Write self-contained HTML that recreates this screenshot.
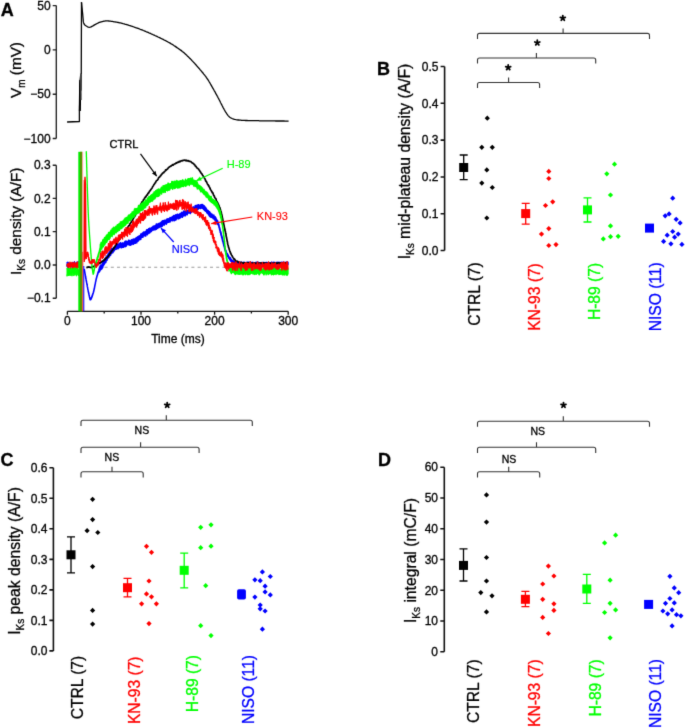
<!DOCTYPE html><html><head><meta charset="utf-8"><style>html,body{margin:0;padding:0;background:#fff;overflow:hidden}svg{display:block;will-change:transform}</style></head><body><svg width="685" height="728" viewBox="0 0 685 728" font-family='"Liberation Sans", sans-serif'>
<defs><filter id="bl" x="0" y="0" width="685" height="728" filterUnits="userSpaceOnUse" color-interpolation-filters="sRGB"><feConvolveMatrix order="3" kernelMatrix="0.018 0.135 0.018 0.135 1 0.135 0.018 0.135 0.018" divisor="1.613" edgeMode="duplicate" preserveAlpha="true"/></filter></defs><g filter="url(#bl)">
<rect width="685" height="728" fill="#fff"/>
<text x="0.8" y="16.4" font-size="18" text-anchor="start" fill="#000" stroke="#000" stroke-width="0.3" font-weight="bold" >A</text>
<path d="M56.3,5.6 L56.3,138.5 M52.7,5.6 L56.3,5.6 M52.7,49.8 L56.3,49.8 M52.7,94.2 L56.3,94.2 M52.7,138.5 L56.3,138.5" stroke="#222" stroke-width="1.35" fill="none"/>
<text x="50.6" y="9.8" font-size="12" text-anchor="end" fill="#000" stroke="#000" stroke-width="0.3" font-weight="normal" >50</text>
<text x="50.6" y="54" font-size="12" text-anchor="end" fill="#000" stroke="#000" stroke-width="0.3" font-weight="normal" >0</text>
<text x="50.6" y="98.4" font-size="12" text-anchor="end" fill="#000" stroke="#000" stroke-width="0.3" font-weight="normal" >−50</text>
<text x="50.6" y="142.7" font-size="12" text-anchor="end" fill="#000" stroke="#000" stroke-width="0.3" font-weight="normal" >−100</text>
<text transform="translate(20.8,98) rotate(-90)" font-size="15.3" stroke="#000" stroke-width="0.3">V<tspan font-size="10" dy="4">m</tspan><tspan dy="-4"> (mV)</tspan></text>
<path d="M67.1,122.0 79.4,121.5 79.4,110.0 79.8,83.0 80.8,74.0 81.2,90.0 81.5,2.2" stroke="#000" stroke-width="1.3" fill="none" stroke-linejoin="round"/>
<path d="M79.9,111 L80.3,80" stroke="#000" stroke-width="2"/>
<path d="M80.9,74 L81.2,100" stroke="#666" stroke-width="1.2"/>
<path d="M81.5,2.2 81.5,2.7 81.6,3.3 81.7,4.0 81.7,4.7 81.8,5.6 81.9,6.5 82.0,7.5 82.1,8.4 82.2,9.4 82.3,10.5 82.4,11.5 82.5,12.4 82.6,13.4 82.7,14.3 82.8,15.1 82.8,15.8 82.9,16.5 83.0,17.7 83.1,18.8 83.2,19.7 83.2,20.5 83.3,21.2 83.4,21.8 83.5,22.4 83.7,23.0 84.1,24.0 84.6,24.7 85.2,25.3 85.9,25.8 86.7,26.3 87.5,26.8 88.4,27.1 89.2,27.3 90.2,27.2 91.1,26.9 92.0,26.4 92.7,26.0 93.4,25.6 94.1,25.1 95.0,24.6 95.7,24.2 96.4,23.9 97.1,23.5 97.9,23.1 98.6,22.7 99.4,22.4 100.3,22.1 101.2,21.8 102.2,21.6 103.1,21.4 104.0,21.2 104.8,21.1 105.5,20.9 106.2,20.9 107.0,20.8 108.1,20.9 108.8,21.0 109.6,21.1 110.4,21.2 111.3,21.3 112.3,21.4 113.2,21.6 114.2,21.8 115.1,21.9 116.0,22.1 116.8,22.2 117.5,22.4 118.2,22.5 119.0,22.6 119.7,22.8 120.4,22.9 121.3,23.1 122.1,23.3 123.1,23.6 124.2,23.9 124.8,24.1 125.5,24.3 126.1,24.5 126.9,24.7 127.6,24.9 128.3,25.1 129.1,25.4 129.9,25.6 130.7,25.9 131.5,26.2 132.3,26.4 133.1,26.7 134.0,27.0 134.8,27.3 135.6,27.6 136.4,27.8 137.2,28.1 138.0,28.4 138.8,28.7 139.6,29.0 140.3,29.3 141.1,29.6 141.9,29.9 142.7,30.2 143.4,30.5 144.2,30.8 145.0,31.1 145.7,31.5 146.5,31.8 147.3,32.1 148.1,32.4 148.8,32.8 149.6,33.1 150.4,33.4 151.1,33.8 151.9,34.1 152.6,34.5 153.4,34.8 154.2,35.1 154.9,35.5 155.7,35.9 156.5,36.2 157.3,36.6 158.1,37.0 158.9,37.3 159.6,37.7 160.4,38.1 161.2,38.5 162.0,38.9 162.7,39.2 163.5,39.6 164.2,40.0 164.9,40.3 165.6,40.7 166.2,41.0 166.9,41.4 167.5,41.7 168.4,42.2 169.3,42.7 170.1,43.1 170.8,43.6 171.5,44.0 172.2,44.4 172.9,44.8 173.6,45.3 174.2,45.7 174.9,46.1 175.6,46.6 176.3,47.1 177.0,47.6 177.6,48.0 178.3,48.5 179.0,49.0 179.6,49.5 180.3,49.9 181.0,50.4 181.7,50.9 182.3,51.5 183.0,52.0 183.7,52.6 184.3,53.1 185.0,53.7 185.6,54.2 186.2,54.8 186.8,55.3 187.3,55.9 187.9,56.4 188.5,57.0 189.1,57.6 189.7,58.2 190.3,58.8 190.9,59.4 191.5,60.0 192.0,60.6 192.6,61.2 193.2,61.9 193.8,62.5 194.4,63.1 194.9,63.7 195.5,64.3 196.1,65.0 196.6,65.6 197.2,66.3 197.8,67.0 198.4,67.6 198.9,68.3 199.5,68.9 200.0,69.6 200.6,70.2 201.1,70.8 201.6,71.4 202.0,72.0 202.5,72.5 203.2,73.3 203.8,74.1 204.4,74.8 204.9,75.4 205.4,76.1 205.9,76.7 206.3,77.4 206.8,78.1 207.3,78.8 207.8,79.5 208.2,80.1 208.6,80.8 209.0,81.5 209.4,82.1 209.8,82.8 210.2,83.5 210.6,84.2 211.0,84.9 211.4,85.6 211.8,86.4 212.3,87.1 212.7,87.9 213.1,88.6 213.5,89.3 213.9,90.0 214.3,90.8 214.8,91.5 215.2,92.3 215.6,93.1 216.0,93.9 216.5,94.7 216.9,95.4 217.3,96.2 217.7,96.9 218.1,97.7 218.5,98.4 218.9,99.2 219.3,99.9 219.7,100.7 220.1,101.5 220.4,102.2 220.8,103.0 221.2,103.7 221.5,104.4 221.9,105.1 222.2,105.8 222.6,106.5 222.9,107.1 223.2,107.7 223.7,108.6 224.2,109.5 224.7,110.3 225.1,111.1 225.5,111.8 225.9,112.4 226.3,113.0 226.7,113.6 227.4,114.6 227.9,115.3 228.4,115.9 229.0,116.5 229.8,117.2 230.5,117.7 231.4,118.2 232.1,118.5 232.9,118.8 233.7,119.1 234.5,119.3 235.2,119.5 235.9,119.7 236.9,119.8 238.4,120.0 238.9,120.0 239.4,120.1 239.9,120.1 240.4,120.2 240.9,120.2 241.4,120.3 242.0,120.3 242.7,120.4 243.5,120.4 244.5,120.4 245.6,120.5 246.9,120.5 248.3,120.6 250.0,120.6 250.5,120.6 251.1,120.6 251.7,120.6 252.4,120.6 253.1,120.7 253.8,120.7 254.5,120.7 255.3,120.7 256.1,120.7 256.9,120.7 257.8,120.7 258.7,120.7 259.5,120.8 260.4,120.8 261.4,120.8 262.3,120.8 263.2,120.8 264.2,120.8 265.2,120.8 266.1,120.8 267.1,120.9 268.1,120.9 269.0,120.9 270.0,120.9 271.0,120.9 272.0,120.9 272.9,120.9 273.9,120.9 274.8,120.9 275.8,121.0 276.7,121.0 277.6,121.0 278.5,121.0 279.4,121.0 280.2,121.0 281.0,121.0 281.8,121.0 282.6,121.0 283.4,121.0 284.1,121.0 284.8,121.1 285.4,121.1 286.1,121.1 286.6,121.1 287.2,121.1 287.7,121.1 288.2,121.1 288.6,121.1" stroke="#000" stroke-width="1.3" fill="none" stroke-linejoin="round"/>
<path d="M56.3,165.2 L56.3,298.2 M52.7,165.2 L56.3,165.2 M52.7,198.3 L56.3,198.3 M52.7,231.6 L56.3,231.6 M52.7,265 L56.3,265 M52.7,298.2 L56.3,298.2" stroke="#222" stroke-width="1.35" fill="none"/>
<text x="50.6" y="169.4" font-size="12" text-anchor="end" fill="#000" stroke="#000" stroke-width="0.3" font-weight="normal" >0.3</text>
<text x="50.6" y="202.5" font-size="12" text-anchor="end" fill="#000" stroke="#000" stroke-width="0.3" font-weight="normal" >0.2</text>
<text x="50.6" y="235.8" font-size="12" text-anchor="end" fill="#000" stroke="#000" stroke-width="0.3" font-weight="normal" >0.1</text>
<text x="50.6" y="269.2" font-size="12" text-anchor="end" fill="#000" stroke="#000" stroke-width="0.3" font-weight="normal" >0.0</text>
<text x="50.6" y="302.4" font-size="12" text-anchor="end" fill="#000" stroke="#000" stroke-width="0.3" font-weight="normal" >−0.1</text>
<text transform="translate(21,275) rotate(-90)" font-size="15.4" stroke="#000" stroke-width="0.3">I<tspan font-size="10" dy="4">Ks</tspan><tspan dy="-4"> density (A/F)</tspan></text>
<path d="M67.4,311.3 L288.2,311.3 M67.4,311.3 L67.4,314.8 M104.2,311.3 L104.2,313.5 M141.0,311.3 L141.0,314.8 M177.8,311.3 L177.8,313.5 M214.6,311.3 L214.6,314.8 M251.4,311.3 L251.4,313.5 M288.2,311.3 L288.2,314.8" stroke="#111" stroke-width="1.3" fill="none"/>
<text x="67.4" y="325.2" font-size="12" text-anchor="middle" fill="#000" stroke="#000" stroke-width="0.3" font-weight="normal" >0</text>
<text x="141" y="325.2" font-size="12" text-anchor="middle" fill="#000" stroke="#000" stroke-width="0.3" font-weight="normal" >100</text>
<text x="214.6" y="325.2" font-size="12" text-anchor="middle" fill="#000" stroke="#000" stroke-width="0.3" font-weight="normal" >200</text>
<text x="288.2" y="325.2" font-size="12" text-anchor="middle" fill="#000" stroke="#000" stroke-width="0.3" font-weight="normal" >300</text>
<text x="177.9" y="343.3" font-size="12" text-anchor="middle" fill="#000" stroke="#000" stroke-width="0.3" font-weight="normal" >Time (ms)</text>
<line x1="86" y1="267.3" x2="288" y2="267.3" stroke="#9a9a9a" stroke-width="1.1" stroke-dasharray="3,3.2"/>
<path d="M67.0,264.8 67.2,265.2 67.5,265.0 67.8,264.6 68.1,264.5 68.4,264.6 68.8,264.9 69.2,264.6 69.7,265.1 70.1,265.1 70.6,265.6 71.0,265.4 71.5,264.6 72.0,264.8 72.5,264.7 73.0,265.1 73.5,265.0 74.0,264.6 74.5,265.2 75.0,264.8 75.4,265.0 75.9,265.3 76.3,264.7 76.8,265.0 77.2,265.2 77.6,265.5 77.9,264.9 78.2,264.7 78.5,264.5 78.8,265.3 79.0,265.4" stroke="#000000" stroke-width="1.2" fill="none"/>
<path d="M67.0,262.3 67.2,262.6 67.5,261.8 67.8,262.8 68.1,263.5 68.4,262.4 68.8,261.9 69.2,263.0 69.7,263.5 70.1,263.4 70.6,263.5 71.0,263.4 71.5,263.0 72.0,263.5 72.5,262.7 73.0,261.9 73.5,263.2 74.0,263.1 74.5,261.4 75.0,263.4 75.4,263.3 75.9,262.6 76.3,263.5 76.8,263.1 77.2,261.5 77.6,262.7 77.9,262.3 78.2,261.6 78.5,261.7 78.8,263.0 79.0,263.4 79.0,266.6 78.8,266.0 78.5,267.0 78.2,267.0 77.9,265.5 77.6,266.5 77.2,266.7 76.8,266.4 76.3,266.0 75.9,265.8 75.4,266.2 75.0,265.7 74.5,265.6 74.0,267.3 73.5,266.0 73.0,267.2 72.5,267.3 72.0,266.1 71.5,267.3 71.0,265.7 70.6,266.9 70.1,265.6 69.7,266.1 69.2,266.7 68.8,265.8 68.4,267.7 68.1,266.7 67.8,266.6 67.5,267.5 67.2,266.1 67.0,266.5z" fill="#0000ff" stroke="#0000ff" stroke-width="1.0" stroke-linejoin="round" fill-opacity="1" stroke-opacity="1"/>
<path d="M67.0,264.0 67.2,263.8 67.5,263.5 67.8,264.0 68.1,263.9 68.4,264.0 68.8,262.7 69.2,263.7 69.7,263.4 70.1,261.8 70.6,263.2 71.0,263.9 71.5,263.5 72.0,261.9 72.5,264.0 73.0,263.0 73.5,262.9 74.0,263.0 74.5,261.8 75.0,263.7 75.4,263.8 75.9,263.0 76.3,263.5 76.8,262.0 77.2,261.8 77.6,262.0 77.9,263.7 78.2,263.5 78.5,264.0 78.8,263.7 79.0,261.4 79.0,267.2 78.8,268.0 78.5,266.8 78.2,266.4 77.9,267.4 77.6,268.1 77.2,268.4 76.8,269.1 76.3,266.7 75.9,268.3 75.4,268.3 75.0,267.0 74.5,268.0 74.0,269.1 73.5,266.4 73.0,266.5 72.5,269.0 72.0,266.6 71.5,266.7 71.0,266.5 70.6,267.3 70.1,269.2 69.7,266.5 69.2,266.9 68.8,266.5 68.4,268.7 68.1,267.0 67.8,266.5 67.5,266.4 67.2,266.6 67.0,266.4z" fill="#ff0000" stroke="#ff0000" stroke-width="1.0" stroke-linejoin="round" fill-opacity="1" stroke-opacity="1"/>
<path d="M67.0,267.9 67.2,267.8 67.5,270.2 67.8,270.2 68.1,269.1 68.4,268.3 68.8,269.0 69.2,270.3 69.7,268.0 70.1,268.6 70.6,270.2 71.0,269.9 71.5,267.7 72.0,269.8 72.5,268.7 73.0,270.3 73.5,268.0 74.0,270.3 74.5,267.7 75.0,269.9 75.4,270.3 75.9,267.7 76.3,269.4 76.8,269.7 77.2,268.3 77.6,270.1 77.9,270.1 78.2,270.1 78.5,270.3 78.8,269.9 79.0,269.2 79.0,276.0 78.8,274.4 78.5,276.0 78.2,274.3 77.9,274.8 77.6,274.0 77.2,273.8 76.8,275.8 76.3,276.1 75.9,275.0 75.4,273.6 75.0,274.7 74.5,275.0 74.0,275.7 73.5,275.6 73.0,273.7 72.5,273.8 72.0,276.2 71.5,274.2 71.0,275.6 70.6,275.5 70.1,274.5 69.7,275.5 69.2,275.0 68.8,275.6 68.4,274.5 68.1,276.0 67.8,273.8 67.5,273.9 67.2,274.2 67.0,276.3z" fill="#00ff00" stroke="#00ff00" stroke-width="1.0" stroke-linejoin="round" fill-opacity="1" stroke-opacity="1"/>
<rect x="83" y="180" width="2.5" height="80" fill="#ffb3b3"/>
<rect x="78.3" y="151.8" width="4" height="159.5" fill="#00ee00"/>
<rect x="80" y="151.8" width="1.9" height="159.5" fill="#5a9000"/>
<rect x="82.2" y="151.8" width="0.9" height="100" fill="#ff9a9a"/>
<rect x="82.2" y="251.8" width="1.1" height="59.5" fill="#ff3030"/>
<rect x="83.3" y="266" width="1.0" height="45.3" fill="#0000ff"/>
<path d="M84.2,262 L84.6,185 L85,176.9 L85.5,185 L86,258" stroke="#ff0000" stroke-width="1.3" fill="#ff0000"/>
<path d="M84.4,269.5 84.4,269.7 84.5,269.9 84.5,270.2 84.6,270.6 84.6,270.8 84.7,271.0 84.7,271.5 84.8,271.8 84.9,272.3 84.9,272.6 85.0,272.9 85.1,273.4 85.2,273.7 85.2,274.2 85.3,274.7 85.4,275.2 85.5,275.6 85.6,276.0 85.6,276.4 85.7,277.0 85.8,277.4 85.9,278.1 86.0,278.6 86.1,279.0 86.1,279.3 86.2,279.9 86.3,280.3 86.4,280.6 86.5,281.2 86.5,281.5 86.6,281.7 86.7,282.4 86.8,282.7 86.8,283.2 86.9,283.4 87.0,283.9 87.1,284.5 87.2,284.8 87.2,285.3 87.3,285.6 87.4,286.2 87.5,286.7 87.6,287.1 87.6,287.5 87.7,287.7 87.8,288.4 87.9,288.7 88.0,289.2 88.1,289.5 88.1,290.1 88.2,290.3 88.3,290.9 88.4,291.3 88.4,291.6 88.5,291.9 88.6,292.3 88.7,292.6 88.7,293.1 88.8,293.4 88.9,293.6 88.9,293.8 89.0,294.2 89.2,294.9 89.3,295.6 89.4,296.1 89.6,296.9 89.7,297.2 89.8,297.7 89.9,298.2 90.0,298.6 90.1,298.7 90.3,298.9 90.4,298.9 90.6,298.9 90.7,298.8 90.8,298.7 91.0,298.5 91.1,298.3 91.3,297.7 91.4,297.6 91.6,297.3 91.7,296.9 91.9,296.5 92.0,295.8 92.2,295.6 92.4,295.1 92.5,294.7 92.7,294.1 92.8,293.7 93.0,293.2 93.2,292.7 93.3,292.2 93.5,291.6 93.6,291.0 93.7,290.6 93.8,290.3 93.9,290.1 94.0,289.5 94.0,289.2 94.1,289.0 94.2,288.3 94.3,288.0 94.4,287.8 94.5,287.3 94.6,286.7 94.6,286.4 94.7,285.9 94.8,285.6 94.9,285.2 95.0,284.8 95.0,284.3 95.1,283.8 95.2,283.4 95.3,282.9 95.4,282.6 95.5,282.1 95.5,281.7 95.6,281.4 95.7,280.9 95.8,280.5 95.9,280.2 96.0,279.8 96.0,279.3 96.1,279.0 96.2,278.8 96.3,278.2 96.4,277.8 96.6,277.4 96.7,276.8 96.8,276.4 96.9,276.0 97.0,275.6 97.2,275.0 97.3,274.5 97.4,274.4 97.5,273.8 97.6,273.6 97.8,273.3 97.9,272.9 98.0,272.5 98.1,271.9 98.3,271.6 98.4,271.3 98.5,271.2 98.7,270.8 98.8,270.5 99.0,268.9 99.2,268.9 99.4,268.3 99.6,268.2 99.9,266.6 100.1,266.0 100.3,265.8 100.5,266.6 100.8,264.9 101.0,266.0 101.3,265.8 101.5,265.7 101.7,265.1 102.0,264.8 102.2,264.0 102.4,264.0 102.6,262.6 102.8,262.9 103.0,261.8 103.2,262.0 103.4,261.6 103.6,261.3 103.8,261.8 104.0,260.1 104.2,260.8 104.4,260.8 104.6,258.9 104.8,259.4 105.0,259.2 105.3,259.5 105.5,259.1 105.8,258.2 106.0,256.9 106.2,257.6 106.4,257.7 106.6,257.2 106.8,257.0 107.0,256.1 107.3,255.3 107.5,255.7 107.7,255.4 108.0,255.4 108.2,253.4 108.4,254.1 108.7,252.9 108.9,253.8 109.1,253.2 109.4,251.6 109.6,251.5 109.9,252.6 110.1,250.8 110.3,251.2 110.6,251.2 110.8,250.0 111.0,249.3 111.3,250.7 111.5,249.8 111.8,248.5 112.1,248.9 112.4,248.9 112.7,249.1 113.0,248.6 113.4,247.6 113.7,248.1 114.0,247.1 114.3,247.6 114.6,246.8 114.9,246.7 115.2,246.1 115.5,246.4 115.8,244.8 116.1,244.8 116.4,245.9 116.7,244.1 117.0,245.4 117.4,244.8 117.8,244.8 118.2,244.1 118.6,244.7 119.0,244.4 119.4,243.7 119.8,243.3 120.1,243.8 120.5,242.6 120.9,243.0 121.3,244.0 121.6,243.8 122.0,243.4 122.4,243.6 122.8,242.7 123.3,243.4 123.7,243.2 124.1,243.1 124.5,243.1 124.9,241.4 125.3,241.7 125.7,241.1 126.1,242.4 126.5,241.3 126.9,241.4 127.3,241.9 127.7,242.1 128.1,241.9 128.5,240.3 128.9,240.2 129.3,241.5 129.7,240.5 130.1,241.7 130.6,241.2 131.0,241.3 131.4,239.8 131.8,240.8 132.1,239.9 132.5,241.0 132.9,239.3 133.3,239.6 133.7,240.3 134.1,238.8 134.5,240.1 135.0,239.8 135.4,239.9 135.8,238.1 136.2,237.8 136.5,239.1 136.8,237.4 137.1,238.4 137.4,238.1 137.7,236.7 138.0,236.8 138.3,236.4 138.6,236.7 138.9,236.9 139.2,235.7 139.5,236.4 139.8,236.1 140.2,236.0 140.5,235.4 140.8,233.9 141.2,234.9 141.5,234.8 141.9,233.5 142.2,234.2 142.5,233.3 142.9,232.8 143.2,232.7 143.5,232.1 143.9,232.5 144.2,231.9 144.6,232.6 145.0,232.5 145.3,231.6 145.7,231.7 146.1,231.3 146.4,230.4 146.8,229.7 147.2,230.7 147.5,229.7 147.9,230.8 148.2,230.5 148.6,228.7 148.9,228.6 149.3,228.5 149.6,229.5 150.0,227.9 150.3,228.5 150.7,228.9 151.0,228.7 151.4,228.4 151.7,227.4 152.1,228.1 152.4,226.9 152.7,227.4 153.1,226.2 153.4,227.2 153.8,226.6 154.1,225.9 154.4,226.4 154.8,225.9 155.2,225.8 155.5,225.6 155.9,225.3 156.3,224.0 156.6,224.9 157.0,224.0 157.3,224.9 157.7,224.3 158.0,224.1 158.4,223.8 158.8,224.2 159.2,223.1 159.5,223.8 159.9,223.3 160.3,223.4 160.7,222.6 161.1,223.1 161.5,221.7 161.8,222.6 162.2,220.9 162.6,221.9 162.9,220.7 163.3,220.6 163.6,220.6 164.0,220.5 164.3,221.2 164.6,220.1 165.0,221.1 165.4,220.4 165.8,220.8 166.2,219.6 166.5,220.4 166.9,219.1 167.2,218.7 167.5,219.1 167.8,218.9 168.2,219.1 168.5,218.9 168.8,218.7 169.2,219.0 169.6,218.3 170.0,217.5 170.4,217.9 170.7,217.8 171.1,218.1 171.4,218.0 171.8,217.2 172.2,216.8 172.5,216.4 172.9,216.8 173.3,216.6 173.7,215.4 174.1,215.5 174.5,215.7 174.9,216.5 175.3,215.9 175.7,214.7 176.1,214.9 176.5,215.9 176.9,214.7 177.3,214.1 177.7,214.2 178.1,214.7 178.5,215.0 178.9,214.4 179.3,214.8 179.6,214.6 180.0,213.5 180.4,214.2 180.8,214.1 181.2,213.1 181.6,212.3 182.0,212.9 182.4,213.4 182.8,212.4 183.2,211.8 183.5,211.1 183.9,212.4 184.3,212.1 184.7,211.3 185.0,210.9 185.4,211.2 185.7,211.1 186.1,211.5 186.4,211.6 186.7,210.6 187.2,210.6 187.6,211.0 188.1,209.9 188.5,210.6 188.9,210.4 189.2,210.1 189.6,209.3 190.0,209.1 190.3,209.7 190.7,209.4 191.0,209.4 191.3,207.8 191.7,208.7 192.0,208.9 192.4,208.0 192.8,207.6 193.1,206.7 193.5,207.9 193.8,207.9 194.2,207.2 194.5,207.5 194.9,207.3 195.2,205.5 195.6,206.8 196.0,206.1 196.4,205.3 196.8,206.2 197.2,206.3 197.6,205.0 198.0,206.0 198.5,204.8 198.9,204.7 199.3,205.5 199.7,205.4 200.2,205.4 200.6,204.8 200.9,204.7 201.3,205.0 201.7,204.6 202.1,205.5 202.5,204.4 202.8,204.7 203.2,206.0 203.5,205.4 203.8,205.7 204.2,205.7 204.6,207.1 205.0,206.9 205.2,207.0 205.5,207.6 205.7,207.5 206.0,208.3 206.2,208.4 206.5,209.2 206.8,209.6 207.1,209.9 207.3,210.3 207.6,210.4 207.9,211.1 208.2,210.6 208.5,210.9 208.7,212.1 209.0,212.2 209.3,211.7 209.5,213.1 209.8,212.0 210.0,213.6 210.4,213.9 210.7,213.1 211.1,213.8 211.4,214.0 211.7,214.9 212.1,214.2 212.4,215.1 212.7,215.5 213.0,215.5 213.4,215.7 213.7,214.9 214.0,215.4 214.2,216.9 214.5,216.7 214.8,217.1 215.0,217.2 215.3,216.8 215.5,217.2 215.8,218.6 216.0,218.0 216.3,219.3 216.5,219.2 216.8,219.9 217.0,220.1 217.2,220.6 217.5,221.0 217.7,220.8 217.9,222.1 218.0,222.7 218.2,222.5 218.3,222.9 218.4,223.5 218.5,223.2 218.6,223.6 218.8,224.7 218.9,224.3 219.0,225.3 219.1,225.8 219.2,225.9 219.3,226.0 219.4,226.9 219.5,227.4 219.6,227.4 219.7,228.2 219.8,228.1 219.9,229.1 220.0,228.8 220.1,229.9 220.2,229.9 220.4,230.9 220.5,231.2 220.6,231.4 220.7,232.0 220.8,231.6 220.9,232.9 221.0,233.2 221.1,232.7 221.2,233.4 221.3,234.4 221.4,234.8 221.5,235.1 221.6,235.5 221.8,235.6 221.9,236.1 222.0,236.9 222.1,237.1 222.2,236.9 222.3,237.8 222.4,238.4 222.5,238.5 222.7,238.8 222.8,239.1 222.9,239.8 223.0,240.6 223.1,241.1 223.2,240.9 223.3,241.5 223.4,242.1 223.5,242.2 223.6,242.5 223.7,243.3 223.8,243.1 223.9,243.8 224.0,244.6 224.2,245.0 224.3,244.6 224.4,245.9 224.5,246.0 224.6,246.5 224.7,246.5 224.8,247.4 224.9,247.9 225.0,248.2 225.2,248.8 225.3,249.0 225.4,249.4 225.5,249.9 225.6,250.0 225.7,250.4 225.8,250.9 226.0,250.4 226.1,251.6 226.2,251.8 226.4,252.4 226.6,252.1 226.8,252.9 227.0,253.5 227.2,253.8 227.4,253.6 227.6,254.4 227.8,254.7 228.0,254.7 228.2,255.0 228.5,255.9 228.7,256.2 228.9,256.8 229.2,257.0 229.4,257.3 229.6,257.5 229.8,257.6 230.1,257.5 230.3,258.6 230.5,258.0 230.8,259.2 231.1,259.1 231.4,259.9 231.7,259.7 232.0,260.5 232.3,260.7 232.6,260.8 232.9,260.4 233.2,261.4 233.6,261.2 233.9,261.3 234.2,261.4 234.6,262.1 234.9,262.0 234.9,262.2 234.9,262.2 234.8,262.6 234.6,262.4 234.6,262.5 234.6,262.5 234.8,262.5 235.2,262.9 235.8,262.6 236.8,262.4 238.2,262.8 240.0,262.1 240.2,262.5 240.5,263.0 240.7,262.5 241.0,262.8 241.2,262.7 241.5,262.2 241.8,262.4 242.1,262.8 242.4,262.8 242.7,262.7 243.0,262.9 243.3,262.8 243.6,262.3 243.9,262.3 244.3,262.7 244.6,262.7 245.0,262.5 245.4,262.9 245.7,262.9 246.1,262.6 246.5,263.0 246.9,262.2 247.2,263.0 247.6,263.1 248.0,262.2 248.5,262.5 248.9,262.2 249.3,262.6 249.7,262.5 250.1,262.5 250.6,262.5 251.0,262.4 251.4,263.0 251.9,262.4 252.3,262.5 252.8,262.3 253.2,262.7 253.7,262.9 254.2,262.9 254.6,262.6 255.1,263.0 255.6,263.1 256.0,262.3 256.5,262.2 257.0,263.1 257.5,262.6 258.0,262.1 258.4,262.8 258.9,262.6 259.4,263.0 259.9,263.1 260.4,263.0 260.9,263.0 261.4,263.0 261.9,262.5 262.4,262.4 262.9,263.0 263.3,262.5 263.8,262.4 264.3,262.6 264.8,262.8 265.3,262.9 265.8,262.5 266.3,263.0 266.8,262.3 267.3,262.9 267.8,263.0 268.3,262.7 268.8,262.8 269.2,262.8 269.7,263.0 270.2,262.8 270.7,262.6 271.2,262.8 271.6,262.1 272.1,262.6 272.6,263.0 273.1,262.5 273.5,262.9 274.0,262.1 274.4,262.6 274.9,262.8 275.3,262.8 275.8,262.6 276.2,262.3 276.7,263.0 277.1,262.8 277.5,262.3 278.0,263.0 278.4,262.3 278.8,262.6 279.2,262.2 279.6,262.5 280.0,262.8 280.4,262.6 280.8,262.9 281.2,262.1 281.5,262.6 281.9,262.7 282.3,262.9 282.6,262.3 283.0,263.0 283.3,262.3 283.7,262.6 284.0,262.2 284.3,262.7 284.6,262.9 285.0,262.9 285.3,262.8 285.5,262.8 285.8,263.0 286.1,262.0 286.4,263.0 286.6,262.3 286.9,262.6 287.1,262.6 287.4,263.0 287.6,262.2 287.8,262.6 288.0,262.3 288.0,264.5 287.8,264.3 287.6,264.5 287.4,265.2 287.1,264.2 286.9,264.4 286.6,264.3 286.4,264.7 286.1,264.4 285.8,264.2 285.5,264.6 285.3,264.6 285.0,264.8 284.6,264.3 284.3,264.6 284.0,264.6 283.7,265.0 283.3,264.3 283.0,264.9 282.6,264.5 282.3,264.8 281.9,264.3 281.5,264.7 281.2,264.3 280.8,264.8 280.4,264.9 280.0,264.2 279.6,265.1 279.2,264.9 278.8,264.3 278.4,265.0 278.0,265.0 277.5,265.0 277.1,264.6 276.7,264.3 276.2,264.4 275.8,265.1 275.3,264.8 274.9,265.1 274.4,264.4 274.0,265.0 273.5,264.7 273.1,265.0 272.6,265.2 272.1,264.4 271.6,264.9 271.2,264.9 270.7,264.5 270.2,264.7 269.7,264.9 269.2,264.8 268.8,264.7 268.3,264.3 267.8,265.0 267.3,264.8 266.8,264.3 266.3,264.7 265.8,264.2 265.3,265.2 264.8,265.1 264.3,264.8 263.8,264.3 263.3,265.0 262.9,264.9 262.4,264.3 261.9,264.4 261.4,264.3 260.9,265.1 260.4,265.2 259.9,264.8 259.4,264.3 258.9,264.3 258.4,264.3 258.0,264.6 257.5,265.2 257.0,264.5 256.5,264.5 256.0,264.7 255.6,264.3 255.1,264.7 254.6,265.2 254.2,264.5 253.7,264.5 253.2,264.4 252.8,264.9 252.3,264.5 251.9,265.1 251.4,264.3 251.0,264.3 250.6,264.5 250.1,264.3 249.7,264.7 249.3,264.7 248.9,264.7 248.5,264.9 248.0,264.7 247.6,264.3 247.2,264.4 246.9,264.6 246.5,264.8 246.1,264.9 245.7,264.7 245.4,264.4 245.0,264.9 244.6,265.2 244.3,264.4 243.9,264.5 243.6,264.4 243.3,264.6 243.0,264.5 242.7,264.9 242.4,264.5 242.1,265.0 241.8,264.7 241.5,264.2 241.2,264.5 241.0,265.2 240.7,265.1 240.5,264.7 240.2,264.7 240.0,264.2 238.2,264.4 236.8,264.9 235.8,264.5 235.2,264.9 234.8,264.9 234.6,264.4 234.6,264.0 234.6,263.9 234.8,263.9 234.9,263.9 234.9,264.5 234.9,264.2 234.6,264.0 234.2,264.0 233.9,263.9 233.6,263.5 233.2,263.5 232.9,263.1 232.6,262.3 232.3,262.6 232.0,261.8 231.7,261.5 231.4,262.1 231.1,260.8 230.8,261.2 230.5,260.8 230.3,260.6 230.1,260.3 229.8,259.5 229.6,259.5 229.4,259.0 229.2,258.5 228.9,258.6 228.7,257.7 228.5,257.4 228.2,257.1 228.0,256.8 227.8,256.3 227.6,256.0 227.4,256.2 227.2,255.6 227.0,255.7 226.8,254.8 226.6,254.5 226.4,254.3 226.2,253.3 226.1,253.6 226.0,252.9 225.8,252.8 225.7,252.0 225.6,252.0 225.5,251.4 225.4,251.0 225.3,250.4 225.2,251.0 225.0,250.3 224.9,249.8 224.8,249.8 224.7,248.8 224.6,248.5 224.5,248.2 224.4,247.6 224.3,247.1 224.2,246.9 224.0,246.2 223.9,246.3 223.8,245.2 223.7,245.1 223.6,245.1 223.5,244.1 223.4,243.8 223.3,243.2 223.2,243.3 223.1,242.6 223.0,242.4 222.9,241.8 222.8,241.7 222.7,241.3 222.5,241.1 222.4,239.9 222.3,240.1 222.2,239.3 222.1,239.2 222.0,238.6 221.9,238.0 221.8,237.6 221.6,237.6 221.5,236.5 221.4,236.1 221.3,236.1 221.2,235.5 221.1,235.6 221.0,234.7 220.9,235.0 220.8,234.3 220.7,233.4 220.6,233.1 220.5,232.7 220.4,232.2 220.2,232.4 220.1,231.4 220.0,230.9 219.9,230.6 219.8,230.3 219.7,229.8 219.6,229.7 219.5,229.4 219.4,228.4 219.3,228.4 219.2,228.1 219.1,227.4 219.0,227.5 218.9,226.7 218.8,226.1 218.6,225.6 218.5,225.3 218.4,225.1 218.3,224.8 218.2,224.9 218.0,224.6 217.9,224.6 217.7,223.9 217.5,223.1 217.2,224.0 217.0,223.3 216.8,222.3 216.5,222.5 216.3,221.6 216.0,222.2 215.8,220.5 215.5,220.2 215.3,219.8 215.0,219.6 214.8,220.1 214.5,219.9 214.2,219.0 214.0,219.1 213.7,218.6 213.4,218.0 213.0,218.4 212.7,217.5 212.4,217.5 212.1,217.1 211.7,216.8 211.4,216.7 211.1,217.4 210.7,217.1 210.4,215.8 210.0,215.5 209.8,216.5 209.5,216.1 209.3,215.8 209.0,215.4 208.7,214.6 208.5,214.5 208.2,214.0 207.9,212.9 207.6,212.6 207.3,213.5 207.1,211.8 206.8,212.7 206.5,211.8 206.2,211.0 206.0,211.3 205.7,211.3 205.5,211.0 205.2,211.1 205.0,210.2 204.6,210.3 204.2,208.9 203.8,208.7 203.5,209.5 203.2,208.1 202.8,207.8 202.5,207.8 202.1,208.3 201.7,208.0 201.3,207.8 200.9,207.6 200.6,208.6 200.2,208.4 199.7,207.7 199.3,207.8 198.9,208.4 198.5,208.5 198.0,209.5 197.6,209.3 197.2,209.9 196.8,208.8 196.4,208.8 196.0,209.7 195.6,209.8 195.2,209.3 194.9,210.1 194.5,210.8 194.2,210.0 193.8,210.6 193.5,211.7 193.1,211.5 192.8,211.1 192.4,211.2 192.0,211.9 191.7,211.4 191.3,212.6 191.0,212.4 190.7,211.8 190.3,213.5 190.0,212.6 189.6,212.3 189.2,213.1 188.9,212.9 188.5,213.1 188.1,212.9 187.6,213.3 187.2,214.8 186.7,214.0 186.4,213.8 186.1,213.8 185.7,214.9 185.4,215.9 185.0,214.5 184.7,214.5 184.3,214.8 183.9,216.0 183.5,215.7 183.2,215.4 182.8,215.8 182.4,217.3 182.0,217.2 181.6,216.6 181.2,216.4 180.8,216.9 180.4,217.6 180.0,218.1 179.6,218.4 179.3,217.0 178.9,217.4 178.5,217.5 178.1,219.0 177.7,217.7 177.3,218.0 176.9,218.0 176.5,218.4 176.1,219.8 175.7,218.5 175.3,220.2 174.9,220.5 174.5,220.2 174.1,220.8 173.7,219.3 173.3,219.7 172.9,219.5 172.5,220.8 172.2,219.8 171.8,220.0 171.4,220.6 171.1,220.7 170.7,220.5 170.4,220.7 170.0,222.0 169.6,221.1 169.2,222.0 168.8,221.8 168.5,222.4 168.2,222.4 167.8,222.1 167.5,222.7 167.2,222.2 166.9,222.4 166.5,223.3 166.2,224.3 165.8,223.1 165.4,223.5 165.0,223.8 164.6,223.7 164.3,225.1 164.0,224.0 163.6,224.1 163.3,225.0 162.9,224.7 162.6,224.5 162.2,226.4 161.8,224.9 161.5,226.7 161.1,225.8 160.7,227.0 160.3,225.8 159.9,226.3 159.5,226.8 159.2,227.6 158.8,227.0 158.4,226.6 158.0,228.1 157.7,228.1 157.3,228.5 157.0,227.3 156.6,227.5 156.3,229.3 155.9,228.2 155.5,228.7 155.2,229.9 154.8,228.7 154.4,229.7 154.1,228.9 153.8,229.8 153.4,229.4 153.1,230.2 152.7,229.9 152.4,230.1 152.1,230.5 151.7,230.6 151.4,231.5 151.0,231.0 150.7,231.5 150.3,232.2 150.0,231.7 149.6,233.1 149.3,232.6 148.9,232.6 148.6,233.2 148.2,232.8 147.9,233.2 147.5,234.7 147.2,234.6 146.8,233.6 146.4,234.7 146.1,234.2 145.7,236.0 145.3,234.7 145.0,236.1 144.6,235.1 144.2,235.2 143.9,235.7 143.5,235.8 143.2,235.8 142.9,237.4 142.5,237.2 142.2,236.9 141.9,237.1 141.5,237.5 141.2,237.2 140.8,239.3 140.5,239.5 140.2,238.8 139.8,238.4 139.5,239.8 139.2,239.0 138.9,239.6 138.6,239.9 138.3,241.0 138.0,241.2 137.7,240.5 137.4,241.2 137.1,241.1 136.8,242.8 136.5,241.9 136.2,241.6 135.8,242.7 135.4,243.2 135.0,242.5 134.5,243.5 134.1,243.4 133.7,242.9 133.3,244.4 132.9,243.2 132.5,243.1 132.1,243.2 131.8,244.6 131.4,243.4 131.0,243.9 130.6,245.3 130.1,244.3 129.7,244.4 129.3,245.3 128.9,244.2 128.5,244.2 128.1,244.5 127.7,244.3 127.3,244.7 126.9,244.8 126.5,244.6 126.1,246.3 125.7,245.1 125.3,246.7 124.9,246.5 124.5,245.6 124.1,245.3 123.7,247.2 123.3,246.0 122.8,247.4 122.4,246.3 122.0,246.2 121.6,247.8 121.3,247.4 120.9,246.5 120.5,246.7 120.1,246.7 119.8,247.8 119.4,246.9 119.0,247.3 118.6,247.0 118.2,248.7 117.8,247.5 117.4,248.5 117.0,247.8 116.7,249.0 116.4,248.3 116.1,248.9 115.8,249.4 115.5,249.3 115.2,249.0 114.9,249.4 114.6,250.3 114.3,249.8 114.0,251.0 113.7,250.5 113.4,250.9 113.0,252.5 112.7,252.4 112.4,252.2 112.1,253.0 111.8,253.3 111.5,253.5 111.3,252.9 111.0,253.3 110.8,254.8 110.6,255.3 110.3,254.0 110.1,254.9 109.9,255.7 109.6,255.0 109.4,256.8 109.1,256.2 108.9,256.3 108.7,256.6 108.4,257.7 108.2,257.2 108.0,257.8 107.7,258.2 107.5,258.9 107.3,259.0 107.0,260.4 106.8,259.5 106.6,259.6 106.4,260.0 106.2,260.3 106.0,262.3 105.8,261.1 105.5,262.8 105.3,261.8 105.0,262.5 104.8,262.7 104.6,263.0 104.4,264.2 104.2,263.8 104.0,263.9 103.8,264.2 103.6,265.4 103.4,265.3 103.2,265.2 103.0,266.2 102.8,267.4 102.6,267.4 102.4,268.1 102.2,266.9 102.0,267.3 101.7,269.1 101.5,269.2 101.3,268.2 101.0,268.9 100.8,269.6 100.5,269.5 100.3,269.6 100.1,270.7 99.9,270.1 99.6,271.5 99.4,272.1 99.2,271.4 99.0,271.8 98.8,271.3 98.7,271.6 98.5,272.1 98.4,272.4 98.3,272.7 98.1,272.9 98.0,273.4 97.9,273.7 97.8,274.3 97.6,274.4 97.5,275.0 97.4,275.2 97.3,275.8 97.2,276.0 97.0,276.4 96.9,276.9 96.8,277.3 96.7,277.8 96.6,278.2 96.4,278.6 96.3,279.1 96.2,279.6 96.1,279.9 96.0,280.4 96.0,280.8 95.9,281.0 95.8,281.6 95.7,281.8 95.6,282.2 95.5,282.6 95.5,283.0 95.4,283.5 95.3,284.0 95.2,284.2 95.1,284.8 95.0,285.2 95.0,285.7 94.9,286.0 94.8,286.4 94.7,287.0 94.6,287.5 94.6,287.9 94.5,288.3 94.4,288.6 94.3,289.1 94.2,289.4 94.1,289.9 94.0,290.2 94.0,290.5 93.9,290.9 93.8,291.4 93.7,291.7 93.6,292.0 93.5,292.4 93.3,292.9 93.2,293.5 93.0,293.9 92.8,294.5 92.7,295.0 92.5,295.5 92.4,296.0 92.2,296.6 92.0,296.9 91.9,297.5 91.7,297.7 91.6,298.1 91.4,298.4 91.3,298.8 91.1,299.2 91.0,299.2 90.8,299.6 90.7,299.6 90.6,299.7 90.4,299.9 90.3,299.9 90.1,299.8 90.0,299.4 89.9,299.2 89.8,298.7 89.7,298.2 89.6,297.7 89.4,297.1 89.3,296.4 89.2,295.7 89.0,295.0 88.9,294.7 88.9,294.4 88.8,294.1 88.7,293.8 88.7,293.5 88.6,293.1 88.5,293.0 88.4,292.4 88.4,292.2 88.3,291.8 88.2,291.4 88.1,291.0 88.1,290.4 88.0,290.0 87.9,289.7 87.8,289.4 87.7,288.7 87.6,288.5 87.6,287.8 87.5,287.6 87.4,286.9 87.3,286.8 87.2,286.3 87.2,285.7 87.1,285.2 87.0,284.8 86.9,284.3 86.8,283.9 86.8,283.5 86.7,283.2 86.6,282.9 86.5,282.4 86.5,282.2 86.4,281.8 86.3,281.1 86.2,280.8 86.1,280.4 86.1,279.9 86.0,279.3 85.9,278.9 85.8,278.3 85.7,278.1 85.6,277.4 85.6,277.1 85.5,276.7 85.4,276.1 85.3,275.7 85.2,275.2 85.2,274.7 85.1,274.4 85.0,273.9 84.9,273.4 84.9,273.1 84.8,272.8 84.7,272.3 84.7,272.0 84.6,271.7 84.6,271.5 84.5,271.0 84.5,270.7 84.4,270.6 84.4,270.5z" fill="#0000ff" stroke="#0000ff" stroke-width="1.4" stroke-linejoin="round" fill-opacity="1" stroke-opacity="1"/>
<path d="M86.4,267.7 86.9,267.6 87.5,267.0 88.3,267.1 89.1,266.9 89.9,267.4 90.6,267.3 91.3,267.6 92.0,267.1 92.6,266.5 93.3,266.4 94.0,266.4 94.5,266.2 95.1,265.7 95.6,265.8 96.2,264.7 96.8,264.5 97.4,264.7 98.0,264.4 98.5,264.0 99.0,263.6 99.6,262.8 100.1,263.1 100.6,262.8 101.2,262.3 101.8,261.5 102.5,261.1 102.9,261.0 103.3,260.4 103.7,260.6 104.1,260.2 104.5,259.3 104.9,259.1 105.3,259.3 105.8,258.3 106.2,257.8 106.7,258.0 107.1,257.2 107.6,257.0 108.1,256.2 108.7,255.1 109.2,255.0 109.5,254.1 109.8,253.8 110.1,253.3 110.4,253.4 110.8,252.4 111.1,252.0 111.4,251.3 111.8,250.8 112.1,250.8 112.5,250.1 112.9,249.3 113.2,248.9 113.6,248.9 113.9,247.5 114.3,247.8 114.7,246.9 115.0,246.7 115.4,245.9 115.8,244.6 116.1,244.8 116.5,243.6 116.8,243.8 117.2,242.9 117.5,242.0 117.8,242.0 118.2,241.0 118.5,241.0 118.8,240.2 119.2,239.9 119.6,239.6 119.9,238.5 120.3,238.5 120.7,238.0 121.0,237.5 121.4,237.1 121.7,236.3 122.1,236.2 122.4,235.7 122.8,234.6 123.1,234.3 123.4,233.9 123.8,233.1 124.1,233.0 124.5,232.2 124.8,232.4 125.1,231.5 125.5,231.0 125.8,230.2 126.2,230.5 126.5,229.6 126.8,229.2 127.1,229.0 127.5,227.8 127.8,227.4 128.1,226.7 128.4,226.8 128.7,225.7 129.1,225.7 129.4,225.3 129.7,224.9 130.0,223.6 130.3,223.5 130.7,222.8 131.0,222.4 131.3,222.0 131.6,221.1 132.0,221.1 132.3,220.6 132.6,219.7 132.9,219.5 133.2,218.6 133.6,218.4 133.9,217.3 134.2,216.9 134.5,216.8 134.8,216.3 135.1,215.0 135.4,215.3 135.6,214.1 135.9,213.9 136.2,213.3 136.5,212.6 136.8,211.7 137.1,212.0 137.4,211.4 137.7,210.7 138.0,210.3 138.3,209.4 138.6,208.9 138.8,208.2 139.1,207.7 139.4,207.1 139.7,206.9 140.0,205.8 140.3,205.1 140.5,205.3 140.8,204.2 141.1,203.9 141.4,203.1 141.6,202.8 141.9,202.3 142.3,201.5 142.6,201.6 143.0,200.8 143.4,199.9 143.7,199.6 144.1,199.3 144.4,198.5 144.7,197.9 145.1,197.6 145.4,196.8 145.8,197.1 146.1,196.4 146.4,195.7 146.8,195.3 147.1,194.7 147.5,194.8 147.8,193.6 148.1,193.5 148.5,192.6 148.8,192.9 149.2,191.7 149.5,191.3 149.9,191.0 150.2,190.7 150.6,190.0 150.9,189.5 151.3,189.0 151.6,188.5 152.0,188.1 152.4,187.3 152.7,186.5 153.1,186.1 153.4,185.7 153.7,185.0 154.1,184.4 154.4,184.1 154.8,183.3 155.1,182.9 155.4,182.8 155.8,181.9 156.2,181.1 156.6,180.5 157.0,180.4 157.3,180.2 157.7,179.6 158.1,179.2 158.4,178.3 158.8,177.3 159.2,177.4 159.6,177.3 159.9,176.5 160.3,176.0 160.8,175.7 161.2,174.9 161.6,174.4 162.0,174.3 162.4,173.3 162.9,173.1 163.3,172.8 163.8,172.6 164.2,171.7 164.7,171.7 165.2,170.8 165.6,170.0 166.1,170.3 166.6,169.5 167.0,169.4 167.5,168.9 167.9,168.6 168.4,167.5 168.8,167.5 169.4,166.8 169.9,166.8 170.4,166.2 171.0,166.1 171.5,165.6 172.1,165.2 172.6,164.6 173.1,165.1 173.6,164.6 174.1,164.2 174.6,163.8 175.1,163.8 175.6,163.6 176.2,162.8 176.8,163.1 177.4,162.2 178.0,162.4 178.6,162.2 179.1,161.3 179.7,161.9 180.2,161.6 180.8,161.0 181.3,160.7 181.9,161.0 182.6,160.7 183.2,160.2 183.8,160.5 184.3,160.3 184.9,160.0 185.6,160.7 186.2,160.2 186.7,160.8 187.3,160.7 187.9,160.8 188.5,160.7 189.1,161.4 189.7,161.2 190.3,161.6 190.9,161.7 191.4,162.1 191.9,162.9 192.4,162.9 192.9,163.3 193.3,163.6 193.8,163.8 194.2,164.5 194.6,164.8 195.0,165.2 195.4,166.2 195.8,166.2 196.2,166.6 196.6,167.6 197.0,167.7 197.4,168.4 197.8,168.4 198.3,168.9 198.7,169.2 199.1,170.0 199.6,170.6 199.9,171.2 200.2,171.8 200.5,171.8 200.8,172.5 201.1,173.2 201.4,173.4 201.8,173.7 202.1,174.3 202.4,175.0 202.8,175.4 203.1,175.8 203.4,176.5 203.8,176.8 204.1,177.6 204.4,178.1 204.7,178.6 205.0,179.0 205.3,179.7 205.6,180.8 205.9,181.3 206.2,181.1 206.5,181.6 206.8,182.7 207.1,183.0 207.4,183.8 207.7,184.5 208.0,184.8 208.3,184.9 208.6,186.0 208.9,185.8 209.2,186.6 209.5,187.3 209.8,187.6 210.1,188.7 210.4,189.4 210.7,189.8 211.0,190.1 211.3,190.6 211.7,191.6 212.0,191.6 212.3,192.7 212.6,192.5 212.9,193.1 213.2,193.8 213.4,194.8 213.7,195.3 214.0,195.8 214.3,196.0 214.6,197.2 214.9,197.7 215.2,198.1 215.5,198.5 215.8,198.6 216.1,199.4 216.3,200.4 216.6,200.9 216.9,201.3 217.1,201.5 217.4,202.6 217.7,202.8 217.9,202.9 218.2,203.8 218.4,204.3 218.6,205.2 218.9,205.3 219.1,206.1 219.3,207.1 219.6,207.1 219.8,207.5 220.0,208.3 220.2,209.1 220.4,209.4 220.6,210.4 220.8,211.2 221.0,211.2 221.1,212.0 221.3,212.3 221.4,213.0 221.5,213.8 221.7,214.3 221.8,215.0 222.0,215.2 222.1,216.8 222.2,216.6 222.4,218.1 222.5,217.9 222.7,218.9 222.8,219.6 222.9,220.6 223.1,221.0 223.2,221.6 223.3,221.9 223.5,222.3 223.6,223.6 223.7,223.6 223.8,224.8 224.0,224.8 224.1,225.9 224.2,226.1 224.3,227.1 224.5,227.3 224.6,227.9 224.7,228.3 224.8,229.3 225.0,230.2 225.1,230.9 225.2,231.1 225.4,231.5 225.5,232.5 225.6,233.2 225.7,233.5 225.9,233.7 226.0,234.8 226.1,235.7 226.2,236.4 226.4,237.0 226.5,237.2 226.6,238.1 226.7,238.6 226.9,239.5 227.0,240.4 227.1,240.5 227.2,241.3 227.4,241.6 227.5,242.3 227.6,243.5 227.7,244.0 227.9,244.6 228.0,245.0 228.2,245.6 228.3,245.9 228.5,247.2 228.7,247.5 228.8,247.9 229.0,248.2 229.2,249.4 229.3,249.4 229.5,250.2 229.7,250.8 229.9,251.5 230.1,251.6 230.3,252.8 230.5,252.7 230.8,253.4 231.1,254.3 231.4,254.8 231.7,255.2 232.1,255.7 232.4,256.7 232.8,257.1 233.1,257.6 233.5,258.2 233.9,258.9 234.2,259.5 234.6,259.1 235.1,259.9 235.5,260.8 236.0,261.1 236.4,261.5 236.9,261.2 237.4,261.3 238.0,261.7 238.7,262.4 239.5,262.7 239.9,262.8 240.3,263.0 240.7,262.4 241.0,262.6 241.3,263.0 241.7,262.5 242.1,263.1 242.5,263.2 242.9,263.1 243.4,263.1 244.0,262.7 244.7,263.2 245.5,262.8 246.4,263.4 247.5,262.7 248.7,262.8 250.0,262.9 250.4,263.0 250.8,263.1 251.3,263.6 251.7,263.4 252.2,263.8 252.7,263.1 253.2,263.2 253.8,263.6 254.3,263.0 254.9,263.4 255.5,263.2 256.1,263.6 256.7,263.6 257.3,262.9 258.0,263.0 258.6,263.4 259.3,263.0 260.0,263.2 260.6,263.2 261.3,262.8 262.0,263.1 262.7,263.2 263.5,262.8 264.2,263.4 264.9,263.1 265.6,263.0 266.4,263.3 267.1,263.9 267.8,263.3 268.6,263.6 269.3,263.4 270.0,263.1 270.8,263.5 271.5,263.6 272.2,263.1 272.9,263.5 273.6,263.4 274.4,263.3 275.1,262.8 275.8,263.1 276.4,263.2 277.1,263.0 277.8,263.1 278.5,262.8 279.1,263.2 279.7,263.3 280.4,262.9 281.0,263.0 281.6,263.4 282.2,263.6 282.7,263.6 283.3,262.8 283.8,263.3 284.3,263.1 284.8,263.1 285.3,262.8 285.7,263.6 286.2,262.9 286.6,262.9 287.0,263.4 287.3,263.1 287.7,263.3 288.0,263.3" stroke="#000000" stroke-width="1.7" fill="none" stroke-linejoin="round"/>
<path d="M86.3,151.7 86.3,151.9 86.3,152.1 86.3,152.3 86.3,152.5 86.3,152.8 86.3,153.0 86.3,153.2 86.4,153.5 86.4,153.8 86.4,154.0 86.4,154.3 86.4,154.6 86.4,154.9 86.4,155.2 86.4,155.5 86.4,155.8 86.4,156.1 86.4,156.5 86.4,156.8 86.5,157.1 86.5,157.5 86.5,157.8 86.5,158.2 86.5,158.5 86.5,158.9 86.5,159.2 86.5,159.6 86.5,160.0 86.6,160.4 86.6,160.8 86.6,161.2 86.6,161.6 86.6,162.0 86.6,162.4 86.6,162.8 86.6,163.2 86.6,163.6 86.7,164.0 86.7,164.4 86.7,164.9 86.7,165.3 86.7,165.7 86.7,166.2 86.7,166.6 86.7,167.0 86.8,167.5 86.8,167.9 86.8,168.4 86.8,168.8 86.8,169.3 86.8,169.7 86.8,170.2 86.8,170.7 86.9,171.1 86.9,171.6 86.9,172.1 86.9,172.5 86.9,173.0 86.9,173.5 86.9,173.9 87.0,174.4 87.0,174.9 87.0,175.3 87.0,175.8 87.0,176.3 87.0,176.8 87.0,177.2 87.1,177.7 87.1,178.2 87.1,178.6 87.1,179.1 87.1,179.6 87.1,180.1 87.1,180.5 87.2,181.0 87.2,181.5 87.2,181.9 87.2,182.4 87.2,182.9 87.2,183.3 87.2,183.8 87.2,184.3 87.3,184.7 87.3,185.2 87.3,185.6 87.3,186.1 87.3,186.6 87.3,187.0 87.3,187.5 87.4,187.9 87.4,188.3 87.4,188.8 87.4,189.2 87.4,189.7 87.4,190.1 87.4,190.5 87.5,190.9 87.5,191.4 87.5,191.8 87.5,192.2 87.5,192.6 87.5,193.0 87.5,193.4 87.6,193.8 87.6,194.2 87.6,194.6 87.6,195.0 87.6,195.3 87.6,195.7 87.6,196.1 87.6,196.4 87.7,196.8 87.7,197.2 87.7,197.5 87.7,197.8 87.7,198.3 87.7,198.8 87.8,199.3 87.8,199.8 87.8,200.2 87.8,200.7 87.8,201.1 87.8,201.6 87.9,202.0 87.9,202.5 87.9,202.9 87.9,203.3 87.9,203.8 87.9,204.2 87.9,204.6 88.0,205.0 88.0,205.4 88.0,205.8 88.0,206.2 88.0,206.6 88.0,207.0 88.1,207.4 88.1,207.8 88.1,208.2 88.1,208.6 88.1,209.0 88.1,209.4 88.1,209.7 88.2,210.1 88.2,210.5 88.2,210.9 88.2,211.2 88.2,211.6 88.2,212.0 88.2,212.3 88.3,212.7 88.3,213.1 88.3,213.4 88.3,213.8 88.3,214.2 88.3,214.5 88.4,214.9 88.4,215.3 88.4,215.6 88.4,216.0 88.4,216.4 88.4,216.7 88.5,217.1 88.5,217.4 88.5,217.8 88.5,218.2 88.5,218.5 88.5,218.9 88.6,219.3 88.6,219.7 88.6,220.0 88.6,220.4 88.6,220.8 88.7,221.2 88.7,221.5 88.7,221.9 88.7,222.3 88.8,222.7 88.8,223.1 88.8,223.5 88.8,223.9 88.8,224.3 88.9,224.7 88.9,225.1 88.9,225.5 88.9,225.9 89.0,226.3 89.0,226.8 89.0,227.2 89.1,227.6 89.1,228.1 89.1,228.5 89.1,228.9 89.2,229.4 89.2,229.8 89.2,230.2 89.2,230.6 89.3,231.0 89.3,231.3 89.3,231.7 89.4,232.1 89.4,232.5 89.4,232.9 89.4,233.3 89.5,233.7 89.5,234.1 89.5,234.5 89.5,235.0 89.6,235.4 89.6,235.8 89.6,236.3 89.7,236.7 89.7,237.1 89.7,237.6 89.8,238.0 89.8,238.5 89.8,238.9 89.9,239.4 89.9,239.9 89.9,240.3 90.0,240.8 90.0,241.2 90.0,241.7 90.1,242.2 90.1,242.7 90.1,243.1 90.2,243.6 90.2,244.1 90.2,244.6 90.3,245.0 90.3,245.5 90.3,246.0 90.4,246.5 90.4,246.9 90.4,247.4 90.5,247.9 90.5,248.4 90.6,248.9 90.6,249.3 90.6,249.8 90.7,250.3 90.7,250.8 90.7,251.2 90.8,251.7 90.8,252.2 90.8,252.7 90.9,253.1 90.9,253.6 91.0,254.1 91.0,254.5 91.0,255.0 91.1,255.4 91.1,255.9 91.1,256.3 91.2,256.8 91.2,257.2 91.3,257.7 91.3,258.1 91.3,258.6 91.4,259.0 91.4,259.4 91.4,259.8 91.5,260.3 91.5,260.7 91.5,261.1 91.6,261.5 91.6,261.9 91.7,262.3 91.7,262.7 91.7,263.1 91.8,263.4 91.8,263.8 91.8,264.2 91.9,264.5 91.9,264.9 91.9,265.2 92.0,265.6 92.0,265.9 92.0,266.3 92.1,266.6 92.1,266.9 92.1,267.2 92.2,267.5 92.2,267.8 92.2,268.1 92.3,268.4 92.3,268.6 92.3,268.9 92.4,269.1 92.4,269.4 92.4,269.6 92.5,269.8 92.5,270.1 92.5,270.3 92.5,270.5 92.6,270.7 92.6,270.9 92.8,272.0 93.0,271.3 93.2,272.0 93.4,271.8 93.6,271.4 93.7,270.7 93.9,269.9 94.0,269.6 94.2,268.7 94.4,267.4 94.6,266.7 94.8,265.9 95.0,265.2 95.1,264.2 95.2,264.4 95.3,263.8 95.4,263.5 95.6,263.6 95.7,262.7 95.8,262.9 95.9,262.3 96.1,261.3 96.2,261.2 96.3,260.7 96.5,260.1 96.6,259.8 96.7,259.6 96.8,258.9 97.0,258.4 97.1,257.9 97.2,257.5 97.4,257.0 97.5,257.3 97.6,256.9 97.7,256.3 97.9,255.9 98.0,255.3 98.1,255.2 98.2,254.4 98.3,253.9 98.4,254.1 98.5,253.4 98.7,253.2 98.8,252.3 98.9,252.4 99.0,252.0 99.2,251.0 99.3,250.8 99.4,250.6 99.5,250.2 99.6,249.6 99.7,249.6 99.8,248.8 99.9,248.5 100.0,247.5 100.1,247.2 100.2,246.7 100.3,244.2 100.5,246.0 100.6,244.8 100.8,244.9 101.0,242.7 101.2,242.2 101.4,242.4 101.6,243.0 101.8,243.3 102.0,242.4 102.2,242.5 102.5,242.4 102.7,240.1 102.9,241.3 103.1,239.4 103.3,241.1 103.5,240.2 103.8,240.0 104.0,239.0 104.3,239.0 104.5,237.5 104.7,238.9 105.0,239.0 105.3,237.4 105.6,237.7 106.0,235.8 106.2,236.1 106.4,237.0 106.7,234.8 106.9,236.7 107.2,235.5 107.4,235.6 107.7,234.6 108.0,233.9 108.3,234.3 108.6,232.4 108.9,232.7 109.2,233.6 109.5,232.4 109.8,233.2 110.1,232.1 110.4,231.1 110.6,232.4 110.9,230.2 111.2,230.3 111.5,231.2 111.8,230.9 112.1,228.7 112.4,230.6 112.6,228.2 112.9,229.9 113.2,230.0 113.5,229.2 113.7,227.2 114.0,229.2 114.3,228.4 114.6,227.7 114.9,228.3 115.2,226.8 115.5,227.2 115.9,226.3 116.2,227.1 116.6,226.3 117.0,225.7 117.2,225.0 117.5,224.6 117.8,225.8 118.0,225.7 118.3,225.8 118.6,224.0 118.9,224.7 119.2,225.0 119.5,223.6 119.8,223.4 120.1,222.7 120.4,221.8 120.7,223.4 121.0,221.8 121.3,223.1 121.6,222.1 122.0,221.4 122.3,222.4 122.6,222.2 123.0,221.1 123.3,220.4 123.6,220.8 123.9,220.8 124.3,219.1 124.6,220.4 124.9,218.7 125.2,217.9 125.6,218.2 125.9,218.2 126.2,219.1 126.5,217.5 126.8,218.3 127.1,217.3 127.4,217.8 127.7,217.6 128.0,216.2 128.3,215.6 128.5,215.6 128.8,214.9 129.1,216.5 129.4,216.1 129.7,215.9 130.0,214.7 130.3,215.4 130.6,215.0 130.9,213.6 131.2,214.1 131.5,214.0 131.8,213.8 132.1,211.9 132.4,213.4 132.7,213.1 133.0,212.2 133.3,211.4 133.6,211.2 133.9,211.2 134.1,211.5 134.4,209.0 134.7,208.9 135.0,208.5 135.3,209.9 135.6,209.7 135.9,208.7 136.2,209.5 136.5,209.0 136.8,209.2 137.2,208.2 137.5,208.6 137.8,208.3 138.2,207.2 138.5,205.6 138.8,205.4 139.2,205.9 139.5,207.1 139.8,206.8 140.2,205.1 140.5,206.0 140.9,205.9 141.2,203.3 141.5,205.4 141.9,204.7 142.2,203.2 142.5,204.6 142.8,204.3 143.1,203.4 143.4,201.7 143.7,202.9 144.0,203.3 144.3,202.2 144.6,202.7 144.8,202.7 145.1,201.1 145.3,199.9 145.6,200.6 145.8,200.1 146.3,201.4 146.7,200.9 147.0,200.2 147.3,198.6 147.5,199.4 147.7,197.8 147.9,199.6 148.1,198.2 148.4,198.3 148.6,198.7 148.9,196.4 149.2,198.2 149.6,197.8 149.8,197.0 150.1,196.3 150.3,196.6 150.6,195.5 150.9,196.0 151.1,195.2 151.4,196.1 151.7,194.7 152.0,195.7 152.3,194.5 152.6,195.1 152.9,194.8 153.2,193.1 153.5,193.3 153.9,194.3 154.2,191.6 154.6,193.7 154.9,193.2 155.3,193.0 155.7,190.7 156.1,190.5 156.5,192.3 156.9,190.5 157.2,189.5 157.5,191.5 157.8,191.4 158.1,191.2 158.4,189.0 158.8,190.9 159.1,189.7 159.4,189.6 159.8,189.1 160.1,189.9 160.5,188.8 160.8,188.9 161.2,187.7 161.6,187.1 162.0,188.0 162.3,187.3 162.7,187.6 163.1,185.7 163.5,187.4 163.8,186.1 164.2,185.5 164.6,186.6 165.0,185.3 165.3,185.6 165.7,184.9 166.1,186.3 166.4,184.7 166.8,185.0 167.1,185.1 167.5,184.3 167.8,183.8 168.1,183.0 168.5,183.6 168.8,183.5 169.2,184.1 169.7,184.4 170.1,183.7 170.5,183.9 170.9,183.6 171.4,183.9 171.8,181.4 172.2,181.5 172.6,181.7 173.0,181.9 173.4,183.1 173.8,183.3 174.2,181.1 174.6,182.7 175.0,181.4 175.3,181.2 175.7,182.8 176.1,182.4 176.4,182.3 176.8,180.3 177.2,181.7 177.5,181.7 177.8,181.9 178.2,181.1 178.5,182.3 179.0,182.0 179.5,182.2 179.9,180.7 180.4,182.0 180.8,180.7 181.2,180.5 181.6,181.7 182.0,182.0 182.4,181.7 182.8,179.6 183.2,180.8 183.6,180.8 183.9,181.5 184.3,181.8 184.6,181.3 185.0,181.6 185.5,179.2 185.9,181.2 186.4,181.2 186.8,180.9 187.3,179.8 187.7,179.5 188.1,178.6 188.5,178.9 188.9,178.8 189.3,178.6 189.6,179.1 190.0,180.4 190.5,178.2 191.0,178.9 191.4,178.8 191.8,180.0 192.2,177.6 192.6,178.8 193.0,180.0 193.5,180.4 193.8,180.5 194.0,180.2 194.3,180.8 194.6,180.9 194.8,180.5 195.1,181.4 195.4,181.6 195.7,180.7 196.0,182.4 196.3,182.4 196.6,182.1 197.0,181.7 197.3,182.7 197.7,184.2 197.9,184.0 198.2,184.8 198.4,185.5 198.7,185.2 199.0,185.9 199.3,186.3 199.6,186.3 199.8,185.3 200.1,187.2 200.4,186.4 200.7,186.4 201.0,186.7 201.3,186.8 201.7,188.6 202.0,187.6 202.3,189.3 202.6,188.1 202.9,188.9 203.2,189.8 203.5,190.5 203.8,190.6 204.1,189.5 204.4,191.4 204.7,190.9 205.0,192.1 205.3,191.3 205.6,192.5 205.9,192.2 206.2,193.2 206.5,191.9 206.8,192.5 207.1,192.6 207.4,194.3 207.7,193.2 208.0,194.9 208.3,194.9 208.6,195.5 208.9,195.2 209.2,195.8 209.5,196.5 209.8,196.6 210.1,196.5 210.4,196.8 210.6,196.8 210.9,196.6 211.2,196.4 211.5,198.3 211.8,198.5 212.1,198.8 212.4,199.4 212.8,199.5 213.1,199.9 213.4,200.0 213.7,199.7 214.0,200.6 214.3,200.9 214.6,201.2 214.8,200.9 215.1,200.3 215.4,201.9 215.7,201.6 215.9,202.2 216.2,202.1 216.4,201.6 216.7,202.0 216.9,204.0 217.1,204.3 217.3,204.4 217.5,203.3 217.6,204.9 217.8,204.3 218.0,205.1 218.2,206.3 218.3,205.8 218.5,205.8 218.6,205.8 218.8,207.8 218.9,207.5 219.0,207.6 219.2,208.8 219.3,208.8 219.4,209.8 219.6,209.4 219.7,209.7 219.8,211.0 219.9,210.4 220.1,210.9 220.2,210.5 220.3,212.4 220.4,211.3 220.5,212.9 220.6,212.2 220.7,213.0 220.8,213.6 220.9,214.8 221.0,215.1 221.1,215.6 221.1,215.6 221.2,216.4 221.3,215.1 221.4,216.8 221.4,217.1 221.5,217.4 221.6,217.4 221.6,218.4 221.7,218.0 221.8,218.7 221.8,219.0 221.9,220.3 222.0,220.7 222.1,221.1 222.1,221.6 222.2,222.4 222.3,223.2 222.3,222.9 222.4,223.9 222.4,224.2 222.5,224.6 222.5,224.9 222.6,224.4 222.6,225.7 222.7,225.2 222.7,226.4 222.8,226.8 222.9,227.0 222.9,227.7 223.0,228.1 223.0,228.1 223.1,228.9 223.1,228.8 223.2,229.5 223.2,229.3 223.3,230.6 223.3,230.5 223.4,230.9 223.4,231.2 223.5,232.3 223.5,232.7 223.6,232.5 223.6,233.5 223.7,233.5 223.7,234.5 223.8,234.5 223.8,234.9 223.9,235.7 223.9,235.8 224.0,236.6 224.0,236.9 224.1,236.8 224.1,237.3 224.2,238.0 224.2,238.0 224.2,238.9 224.3,238.7 224.3,239.1 224.4,239.4 224.4,240.4 224.4,240.9 224.5,241.3 224.5,241.4 224.6,241.3 224.6,242.3 224.6,242.9 224.7,243.0 224.7,243.2 224.8,243.6 224.8,244.6 224.8,244.7 224.9,244.9 224.9,245.7 225.0,245.7 225.0,246.5 225.1,246.2 225.1,247.0 225.1,247.6 225.2,248.1 225.2,247.7 225.3,249.0 225.3,249.0 225.4,249.8 225.4,249.6 225.5,250.6 225.6,251.0 225.6,251.4 225.7,251.2 225.8,252.3 225.8,252.7 225.9,252.5 226.0,253.6 226.0,253.8 226.1,254.5 226.2,254.0 226.2,255.3 226.3,255.0 226.4,256.0 226.5,256.3 226.5,256.9 226.6,257.0 226.7,258.0 226.8,258.4 226.8,258.7 226.9,259.2 227.0,258.7 227.1,259.3 227.2,260.4 227.2,260.7 227.3,261.0 227.4,260.8 227.5,261.9 227.6,261.8 227.7,261.7 227.7,262.1 227.8,263.1 227.9,263.3 228.0,263.6 228.2,264.3 228.4,264.7 228.6,264.6 228.8,265.8 229.0,263.7 229.2,264.3 229.4,264.3 229.7,265.1 229.9,264.8 230.2,266.0 230.4,265.3 230.7,265.5 231.0,265.6 231.3,265.5 231.5,266.7 231.6,268.2 231.6,267.4 231.5,268.0 231.3,266.8 231.2,268.4 231.2,268.4 231.3,268.3 231.6,267.0 232.1,268.8 232.8,267.3 233.9,268.2 235.3,267.2 237.1,268.6 237.3,266.9 237.6,266.9 237.8,268.6 238.1,268.0 238.3,268.0 238.6,268.2 238.9,268.4 239.2,267.7 239.4,268.6 239.7,266.7 240.1,269.0 240.4,269.1 240.7,268.4 241.0,268.4 241.4,268.2 241.7,267.4 242.0,268.9 242.4,267.3 242.8,267.1 243.1,268.5 243.5,267.7 243.9,268.9 244.3,268.7 244.7,269.0 245.0,268.3 245.4,269.0 245.9,266.6 246.3,267.4 246.7,267.0 247.1,267.5 247.5,268.7 248.0,269.0 248.4,268.3 248.8,267.1 249.3,268.3 249.7,268.2 250.2,268.0 250.6,268.6 251.1,268.9 251.5,268.6 252.0,268.5 252.5,269.2 252.9,267.7 253.4,269.0 253.9,268.3 254.3,268.1 254.8,269.0 255.3,267.7 255.8,267.8 256.3,268.9 256.8,267.0 257.2,267.0 257.7,269.2 258.2,267.5 258.7,269.1 259.2,268.0 259.7,268.8 260.2,269.0 260.7,269.1 261.2,268.1 261.7,269.1 262.2,269.2 262.7,268.9 263.2,269.1 263.7,268.6 264.1,268.5 264.6,268.5 265.1,268.2 265.6,269.1 266.1,267.9 266.6,268.7 267.1,268.7 267.6,267.9 268.1,269.2 268.6,268.3 269.0,267.4 269.5,268.8 270.0,267.1 270.5,268.7 271.0,268.3 271.4,267.8 271.9,269.2 272.4,267.4 272.8,268.2 273.3,268.9 273.7,268.4 274.2,269.2 274.6,267.2 275.1,269.3 275.5,268.6 276.0,268.8 276.4,268.9 276.8,267.1 277.3,268.6 277.7,268.8 278.1,267.6 278.5,268.8 278.9,268.9 279.3,268.4 279.7,268.9 280.1,269.2 280.5,269.4 280.9,269.3 281.3,269.2 281.6,269.3 282.0,267.8 282.4,267.2 282.7,268.4 283.1,269.3 283.4,268.7 283.7,267.8 284.0,268.8 284.4,267.4 284.7,268.3 285.0,269.4 285.3,269.3 285.6,267.9 285.8,269.3 286.1,269.2 286.4,268.1 286.6,268.9 286.9,268.7 287.1,269.1 287.4,267.0 287.6,268.0 287.8,269.2 288.0,268.9 288.0,274.1 287.8,272.7 287.6,272.8 287.4,275.1 287.1,272.8 286.9,273.1 286.6,275.0 286.4,275.0 286.1,273.7 285.8,272.7 285.6,273.8 285.3,272.6 285.0,272.6 284.7,275.0 284.4,274.2 284.0,272.6 283.7,274.5 283.4,272.8 283.1,274.8 282.7,274.8 282.4,274.9 282.0,274.0 281.6,272.9 281.3,272.8 280.9,274.3 280.5,272.7 280.1,273.9 279.7,274.4 279.3,272.9 278.9,274.7 278.5,273.1 278.1,272.8 277.7,273.7 277.3,273.0 276.8,273.8 276.4,273.5 276.0,274.6 275.5,273.4 275.1,272.9 274.6,274.3 274.2,272.6 273.7,273.1 273.3,274.8 272.8,273.9 272.4,274.2 271.9,273.0 271.4,274.8 271.0,273.8 270.5,272.9 270.0,273.1 269.5,273.7 269.0,274.0 268.6,272.5 268.1,274.5 267.6,273.1 267.1,273.0 266.6,273.0 266.1,274.9 265.6,272.5 265.1,272.6 264.6,272.7 264.1,274.8 263.7,274.9 263.2,273.2 262.7,273.3 262.2,272.7 261.7,272.7 261.2,272.8 260.7,273.1 260.2,272.6 259.7,274.1 259.2,274.9 258.7,273.2 258.2,273.8 257.7,272.5 257.2,273.1 256.8,272.5 256.3,274.3 255.8,273.9 255.3,274.0 254.8,273.5 254.3,274.5 253.9,272.6 253.4,272.7 252.9,274.0 252.5,272.9 252.0,272.5 251.5,273.3 251.1,272.7 250.6,273.5 250.2,274.1 249.7,272.5 249.3,274.6 248.8,274.7 248.4,274.5 248.0,272.4 247.5,274.6 247.1,274.4 246.7,273.3 246.3,272.5 245.9,273.3 245.4,274.7 245.0,273.6 244.7,273.3 244.3,273.8 243.9,272.7 243.5,274.5 243.1,272.8 242.8,274.8 242.4,272.5 242.0,273.9 241.7,272.8 241.4,274.1 241.0,272.3 240.7,273.7 240.4,273.3 240.1,274.4 239.7,273.7 239.4,272.7 239.2,272.5 238.9,274.3 238.6,273.0 238.3,274.1 238.1,272.3 237.8,274.2 237.6,273.7 237.3,273.0 237.1,273.4 235.3,274.5 233.9,272.7 232.8,272.3 232.1,272.1 231.6,272.2 231.3,271.9 231.2,271.9 231.2,272.3 231.3,273.7 231.5,273.3 231.6,272.2 231.6,273.4 231.5,272.5 231.3,272.6 231.0,270.9 230.7,272.5 230.4,270.8 230.2,270.5 229.9,270.0 229.7,270.1 229.4,269.6 229.2,270.6 229.0,271.1 228.8,268.2 228.6,267.5 228.4,266.9 228.2,266.7 228.0,265.2 227.9,265.1 227.8,264.8 227.7,265.0 227.7,264.2 227.6,264.5 227.5,264.0 227.4,263.4 227.3,263.3 227.2,262.3 227.2,262.5 227.1,261.6 227.0,261.1 226.9,261.0 226.8,260.4 226.8,260.6 226.7,260.4 226.6,259.0 226.5,259.2 226.5,258.3 226.4,258.6 226.3,258.1 226.2,257.4 226.2,256.4 226.1,256.0 226.0,255.7 226.0,255.7 225.9,254.7 225.8,254.5 225.8,253.7 225.7,253.3 225.6,253.0 225.6,253.4 225.5,252.2 225.4,251.9 225.4,251.9 225.3,251.0 225.3,250.8 225.2,250.9 225.2,249.7 225.1,249.8 225.1,248.9 225.1,249.4 225.0,248.3 225.0,248.3 224.9,247.6 224.9,246.9 224.8,246.5 224.8,246.2 224.8,245.6 224.7,245.6 224.7,245.0 224.6,244.7 224.6,244.0 224.6,244.4 224.5,243.2 224.5,242.7 224.4,242.8 224.4,242.5 224.4,241.7 224.3,242.0 224.3,241.4 224.2,240.4 224.2,240.0 224.2,239.7 224.1,240.0 224.1,239.3 224.0,238.5 224.0,238.6 223.9,238.2 223.9,237.5 223.8,236.9 223.8,236.4 223.7,236.0 223.7,235.9 223.6,235.1 223.6,235.3 223.5,234.7 223.5,234.2 223.4,234.0 223.4,233.0 223.3,232.7 223.3,232.1 223.2,232.0 223.2,231.3 223.1,231.0 223.1,231.1 223.0,230.5 223.0,229.6 222.9,229.2 222.9,228.9 222.8,228.6 222.7,228.3 222.7,227.6 222.6,228.1 222.6,226.8 222.5,227.0 222.5,226.1 222.4,226.2 222.4,225.3 222.3,225.0 222.3,224.9 222.2,224.3 222.1,224.5 222.1,223.7 222.0,223.5 221.9,224.1 221.8,224.1 221.8,222.9 221.7,222.9 221.6,222.9 221.6,220.9 221.5,220.4 221.4,220.1 221.4,220.6 221.3,219.9 221.2,219.6 221.1,218.9 221.1,218.1 221.0,217.9 220.9,217.4 220.8,218.1 220.7,216.9 220.6,216.3 220.5,217.4 220.4,215.5 220.3,215.5 220.2,215.8 220.1,214.3 219.9,214.8 219.8,214.0 219.7,214.3 219.6,213.1 219.4,213.3 219.3,212.8 219.2,211.8 219.0,211.2 218.9,210.8 218.8,211.8 218.6,210.0 218.5,211.0 218.3,209.9 218.2,209.0 218.0,209.0 217.8,209.3 217.6,208.4 217.5,208.8 217.3,207.3 217.1,206.7 216.9,208.0 216.7,206.5 216.4,205.9 216.2,206.8 215.9,206.6 215.7,205.3 215.4,204.6 215.1,204.2 214.8,204.7 214.6,203.7 214.3,205.1 214.0,203.3 213.7,203.9 213.4,203.1 213.1,203.1 212.8,203.4 212.4,202.1 212.1,202.4 211.8,201.6 211.5,202.6 211.2,201.1 210.9,200.5 210.6,200.2 210.4,201.5 210.1,201.1 209.8,199.8 209.5,200.6 209.2,199.6 208.9,200.0 208.6,199.2 208.3,197.8 208.0,197.5 207.7,197.2 207.4,197.7 207.1,196.7 206.8,196.6 206.5,197.1 206.2,196.9 205.9,196.3 205.6,195.7 205.3,195.4 205.0,195.0 204.7,194.8 204.4,193.9 204.1,194.2 203.8,193.4 203.5,193.9 203.2,193.0 202.9,192.4 202.6,192.6 202.3,192.0 202.0,191.6 201.7,191.3 201.3,191.5 201.0,190.6 200.7,191.9 200.4,190.6 200.1,189.8 199.8,190.0 199.6,189.6 199.3,188.8 199.0,189.0 198.7,188.3 198.4,188.0 198.2,188.7 197.9,187.9 197.7,187.6 197.3,189.1 197.0,186.9 196.6,187.2 196.3,186.6 196.0,186.0 195.7,185.7 195.4,185.7 195.1,186.6 194.8,184.7 194.6,184.9 194.3,185.9 194.0,185.4 193.8,186.1 193.5,185.5 193.0,183.4 192.6,184.3 192.2,183.8 191.8,183.3 191.4,183.5 191.0,184.5 190.5,183.6 190.0,183.8 189.6,184.0 189.3,185.5 188.9,184.1 188.5,184.0 188.1,184.5 187.7,184.3 187.3,185.0 186.8,185.1 186.4,184.6 185.9,186.3 185.5,186.2 185.0,185.7 184.6,185.1 184.3,185.0 183.9,185.1 183.6,186.5 183.2,186.4 182.8,186.4 182.4,185.4 182.0,186.6 181.6,185.5 181.2,186.8 180.8,186.7 180.4,186.0 179.9,187.8 179.5,185.7 179.0,187.6 178.5,185.8 178.2,188.0 177.8,187.9 177.5,188.0 177.2,187.1 176.8,186.0 176.4,186.9 176.1,187.2 175.7,187.9 175.3,187.1 175.0,188.3 174.6,188.0 174.2,188.6 173.8,186.7 173.4,187.2 173.0,187.0 172.6,189.3 172.2,188.5 171.8,188.3 171.4,187.8 170.9,187.7 170.5,187.8 170.1,189.0 169.7,190.0 169.2,189.9 168.8,190.0 168.5,188.3 168.1,190.3 167.8,190.3 167.5,190.9 167.1,190.1 166.8,189.8 166.4,190.4 166.1,189.6 165.7,189.7 165.3,192.3 165.0,190.2 164.6,190.7 164.2,190.6 163.8,192.7 163.5,191.1 163.1,192.2 162.7,191.6 162.3,191.9 162.0,192.1 161.6,194.0 161.2,192.4 160.8,192.7 160.5,193.3 160.1,193.2 159.8,195.1 159.4,194.8 159.1,195.7 158.8,196.0 158.4,196.4 158.1,196.2 157.8,195.6 157.5,196.7 157.2,196.6 156.9,195.4 156.5,195.6 156.1,196.2 155.7,197.4 155.3,197.7 154.9,198.9 154.6,197.0 154.2,199.0 153.9,197.5 153.5,199.3 153.2,199.8 152.9,198.8 152.6,201.0 152.3,198.8 152.0,201.2 151.7,200.0 151.4,200.8 151.1,201.2 150.9,200.6 150.6,200.2 150.3,200.5 150.1,202.1 149.8,201.9 149.6,201.3 149.2,202.5 148.9,202.3 148.6,202.3 148.4,203.6 148.1,204.6 147.9,203.2 147.7,204.0 147.5,203.4 147.3,205.3 147.0,203.9 146.7,205.3 146.3,204.7 145.8,207.0 145.6,205.8 145.3,206.2 145.1,208.0 144.8,208.1 144.6,206.4 144.3,207.2 144.0,206.7 143.7,208.7 143.4,208.8 143.1,209.8 142.8,209.3 142.5,207.9 142.2,208.8 141.9,210.5 141.5,208.8 141.2,209.3 140.9,210.4 140.5,209.9 140.2,210.9 139.8,212.0 139.5,210.5 139.2,212.1 138.8,213.1 138.5,212.7 138.2,212.8 137.8,212.0 137.5,213.4 137.2,212.9 136.8,214.1 136.5,213.2 136.2,213.3 135.9,214.1 135.6,215.0 135.3,214.0 135.0,214.2 134.7,214.8 134.4,216.5 134.1,217.0 133.9,216.3 133.6,216.1 133.3,217.3 133.0,216.1 132.7,217.2 132.4,218.3 132.1,217.8 131.8,219.1 131.5,219.2 131.2,218.8 130.9,218.5 130.6,218.5 130.3,220.4 130.0,220.6 129.7,219.8 129.4,219.7 129.1,220.9 128.8,220.4 128.5,220.3 128.3,221.0 128.0,223.2 127.7,221.1 127.4,221.5 127.1,223.4 126.8,221.9 126.5,223.2 126.2,223.8 125.9,224.7 125.6,224.8 125.2,225.3 124.9,224.3 124.6,225.1 124.3,225.9 123.9,226.2 123.6,225.6 123.3,225.9 123.0,227.1 122.6,226.0 122.3,226.1 122.0,228.1 121.6,227.1 121.3,228.5 121.0,227.2 120.7,227.6 120.4,228.8 120.1,228.1 119.8,229.2 119.5,230.4 119.2,228.7 118.9,230.3 118.6,230.1 118.3,230.0 118.0,229.5 117.8,231.7 117.5,230.7 117.2,229.9 117.0,230.4 116.6,230.8 116.2,232.9 115.9,231.4 115.5,232.7 115.2,232.3 114.9,232.0 114.6,233.8 114.3,234.2 114.0,234.7 113.7,233.1 113.5,233.6 113.2,233.5 112.9,234.1 112.6,233.9 112.4,234.3 112.1,236.6 111.8,235.0 111.5,234.8 111.2,235.2 110.9,235.5 110.6,236.6 110.4,236.5 110.1,238.2 109.8,236.8 109.5,238.4 109.2,239.7 108.9,239.0 108.6,239.3 108.3,239.0 108.0,239.1 107.7,239.4 107.4,241.0 107.2,239.7 106.9,241.1 106.7,242.4 106.4,240.7 106.2,240.9 106.0,242.6 105.6,243.1 105.3,242.9 105.0,244.1 104.7,245.0 104.5,243.6 104.3,244.4 104.0,243.9 103.8,245.0 103.5,246.4 103.3,245.6 103.1,246.0 102.9,247.2 102.7,246.2 102.5,246.6 102.2,246.4 102.0,248.1 101.8,249.0 101.6,247.0 101.4,247.6 101.2,248.0 101.0,249.1 100.8,249.5 100.6,251.2 100.5,251.5 100.3,250.3 100.2,250.4 100.1,252.3 100.0,252.2 99.9,250.8 99.8,250.8 99.7,251.1 99.6,251.5 99.5,252.4 99.4,252.2 99.3,252.8 99.2,253.2 99.0,253.4 98.9,254.1 98.8,254.8 98.7,255.1 98.5,255.8 98.4,255.7 98.3,256.6 98.2,256.8 98.1,257.3 98.0,257.6 97.9,258.2 97.7,258.0 97.6,258.4 97.5,259.4 97.4,259.7 97.2,259.6 97.1,260.3 97.0,260.6 96.8,261.5 96.7,261.6 96.6,262.4 96.5,262.7 96.3,263.4 96.2,263.1 96.1,263.9 95.9,263.9 95.8,264.8 95.7,265.2 95.6,265.4 95.4,265.8 95.3,266.4 95.2,266.4 95.1,267.0 95.0,267.5 94.8,267.5 94.6,268.3 94.4,269.2 94.2,270.7 94.0,271.2 93.9,272.2 93.7,272.8 93.6,273.6 93.4,273.9 93.2,274.3 93.0,273.5 92.8,272.3 92.6,271.1 92.6,271.0 92.5,270.8 92.5,270.6 92.5,270.4 92.5,270.1 92.4,269.9 92.4,269.7 92.4,269.4 92.3,269.2 92.3,268.9 92.3,268.7 92.2,268.4 92.2,268.1 92.2,267.8 92.1,267.5 92.1,267.2 92.1,266.9 92.0,266.6 92.0,266.2 92.0,265.9 91.9,265.5 91.9,265.2 91.9,264.8 91.8,264.5 91.8,264.1 91.8,263.7 91.7,263.4 91.7,263.0 91.7,262.6 91.6,262.2 91.6,261.8 91.5,261.4 91.5,261.0 91.5,260.6 91.4,260.1 91.4,259.7 91.4,259.3 91.3,258.9 91.3,258.4 91.3,258.0 91.2,257.5 91.2,257.1 91.1,256.6 91.1,256.2 91.1,255.7 91.0,255.3 91.0,254.8 91.0,254.4 90.9,253.9 90.9,253.4 90.8,253.0 90.8,252.5 90.8,252.0 90.7,251.5 90.7,251.1 90.7,250.6 90.6,250.1 90.6,249.6 90.6,249.2 90.5,248.7 90.5,248.2 90.4,247.7 90.4,247.2 90.4,246.8 90.3,246.3 90.3,245.8 90.3,245.3 90.2,244.9 90.2,244.4 90.2,243.9 90.1,243.4 90.1,243.0 90.1,242.5 90.0,242.0 90.0,241.5 90.0,241.1 89.9,240.6 89.9,240.2 89.9,239.7 89.8,239.2 89.8,238.8 89.8,238.3 89.7,237.9 89.7,237.4 89.7,237.0 89.6,236.6 89.6,236.1 89.6,235.7 89.5,235.3 89.5,234.8 89.5,234.4 89.5,234.0 89.4,233.6 89.4,233.2 89.4,232.8 89.4,232.4 89.3,232.0 89.3,231.6 89.3,231.3 89.2,230.9 89.2,230.5 89.2,230.2 89.2,229.7 89.1,229.2 89.1,228.8 89.1,228.4 89.1,227.9 89.0,227.5 89.0,227.1 89.0,226.6 88.9,226.2 88.9,225.8 88.9,225.4 88.9,225.0 88.8,224.6 88.8,224.2 88.8,223.8 88.8,223.4 88.8,223.0 88.7,222.6 88.7,222.2 88.7,221.8 88.7,221.5 88.6,221.1 88.6,220.7 88.6,220.3 88.6,220.0 88.6,219.6 88.5,219.2 88.5,218.8 88.5,218.5 88.5,218.1 88.5,217.7 88.5,217.4 88.4,217.0 88.4,216.7 88.4,216.3 88.4,215.9 88.4,215.6 88.4,215.2 88.3,214.8 88.3,214.5 88.3,214.1 88.3,213.7 88.3,213.4 88.3,213.0 88.2,212.6 88.2,212.3 88.2,211.9 88.2,211.5 88.2,211.2 88.2,210.8 88.2,210.4 88.1,210.0 88.1,209.7 88.1,209.3 88.1,208.9 88.1,208.5 88.1,208.1 88.1,207.7 88.0,207.3 88.0,206.9 88.0,206.5 88.0,206.1 88.0,205.7 88.0,205.3 87.9,204.9 87.9,204.5 87.9,204.1 87.9,203.6 87.9,203.2 87.9,202.8 87.9,202.3 87.8,201.9 87.8,201.4 87.8,201.0 87.8,200.5 87.8,200.1 87.8,199.6 87.7,199.1 87.7,198.6 87.7,198.2 87.7,197.8 87.7,197.5 87.7,197.1 87.6,196.7 87.6,196.4 87.6,196.0 87.6,195.6 87.6,195.3 87.6,194.9 87.6,194.5 87.6,194.1 87.5,193.7 87.5,193.3 87.5,192.9 87.5,192.5 87.5,192.1 87.5,191.7 87.5,191.2 87.4,190.8 87.4,190.4 87.4,190.0 87.4,189.5 87.4,189.1 87.4,188.6 87.4,188.2 87.3,187.8 87.3,187.3 87.3,186.9 87.3,186.4 87.3,185.9 87.3,185.5 87.3,185.0 87.2,184.6 87.2,184.1 87.2,183.6 87.2,183.2 87.2,182.7 87.2,182.2 87.2,181.8 87.2,181.3 87.1,180.8 87.1,180.4 87.1,179.9 87.1,179.4 87.1,178.9 87.1,178.5 87.1,178.0 87.0,177.5 87.0,177.1 87.0,176.6 87.0,176.1 87.0,175.6 87.0,175.2 87.0,174.7 86.9,174.2 86.9,173.8 86.9,173.3 86.9,172.8 86.9,172.4 86.9,171.9 86.9,171.4 86.8,171.0 86.8,170.5 86.8,170.0 86.8,169.6 86.8,169.1 86.8,168.7 86.8,168.2 86.8,167.8 86.7,167.3 86.7,166.9 86.7,166.5 86.7,166.0 86.7,165.6 86.7,165.2 86.7,164.7 86.7,164.3 86.6,163.9 86.6,163.5 86.6,163.1 86.6,162.7 86.6,162.3 86.6,161.9 86.6,161.5 86.6,161.1 86.6,160.7 86.5,160.3 86.5,159.9 86.5,159.5 86.5,159.2 86.5,158.8 86.5,158.5 86.5,158.1 86.5,157.8 86.5,157.4 86.4,157.1 86.4,156.8 86.4,156.4 86.4,156.1 86.4,155.8 86.4,155.5 86.4,155.2 86.4,154.9 86.4,154.6 86.4,154.3 86.4,154.1 86.4,153.8 86.3,153.5 86.3,153.3 86.3,153.1 86.3,152.8 86.3,152.6 86.3,152.4 86.3,152.2 86.3,152.0z" fill="#00ff00" stroke="#00ff00" stroke-width="1.3" stroke-linejoin="round" fill-opacity="1" stroke-opacity="1"/>
<path d="M86.3,257.4 86.4,256.4 86.4,256.4 86.5,255.7 86.6,254.2 86.7,254.7 86.8,252.7 86.9,252.2 87.0,253.2 87.2,252.7 87.3,252.7 87.5,251.8 87.6,252.9 87.7,252.9 87.7,253.0 87.8,253.5 87.9,252.4 88.0,253.9 88.1,254.7 88.2,253.9 88.3,254.8 88.4,254.5 88.5,256.7 88.6,257.2 88.7,257.8 88.8,258.0 88.9,257.4 89.0,257.8 89.2,259.8 89.3,259.8 89.4,260.2 89.5,259.5 89.6,260.5 89.7,261.6 89.9,260.7 90.0,261.3 90.3,261.5 90.7,262.3 91.0,261.3 91.4,261.1 91.8,261.2 92.1,259.3 92.5,260.2 92.9,259.1 93.3,259.7 93.6,259.8 93.8,259.9 94.0,259.6 94.2,260.2 94.4,259.5 94.6,260.9 94.8,261.7 95.0,262.8 95.2,263.4 95.4,263.9 95.6,263.0 95.8,264.5 96.0,264.3 96.3,265.2 96.5,265.4 96.7,264.3 96.8,265.3 97.0,265.1 97.1,263.5 97.3,263.8 97.4,263.0 97.6,262.7 97.8,262.1 97.9,262.9 98.1,261.8 98.2,262.6 98.4,261.1 98.5,260.9 98.7,261.0 98.9,259.1 99.0,260.3 99.2,259.4 99.4,259.3 99.5,258.7 99.7,258.4 99.9,257.6 100.1,256.0 100.3,254.1 100.5,253.2 100.7,255.7 100.9,252.5 101.2,254.4 101.4,254.7 101.6,254.4 101.9,253.1 102.1,251.0 102.4,253.2 102.6,252.1 102.9,250.6 103.1,252.2 103.4,252.0 103.7,251.8 103.9,251.5 104.2,250.6 104.5,250.4 104.7,248.6 105.0,249.1 105.2,246.9 105.5,248.4 105.7,249.4 106.0,246.2 106.3,248.0 106.5,248.1 106.8,247.3 107.0,247.8 107.3,247.4 107.6,247.1 107.8,246.7 108.1,245.9 108.4,243.2 108.6,244.6 108.9,243.5 109.1,245.2 109.4,244.8 109.7,244.3 109.9,241.4 110.2,240.8 110.5,242.6 110.7,242.0 111.0,242.9 111.2,242.8 111.5,242.6 111.8,241.5 112.1,242.0 112.5,241.0 112.8,241.2 113.1,241.3 113.4,240.7 113.7,239.3 114.0,238.7 114.3,240.5 114.6,240.0 115.0,238.5 115.3,238.7 115.6,239.2 116.0,236.8 116.3,239.1 116.6,238.9 117.0,238.6 117.3,238.0 117.6,237.6 117.8,237.8 118.1,237.5 118.4,234.9 118.7,236.8 118.9,236.9 119.2,234.5 119.5,236.3 119.8,236.1 120.1,235.6 120.4,234.1 120.7,234.7 121.0,233.8 121.3,233.6 121.6,231.9 122.0,234.0 122.3,233.8 122.6,232.3 123.0,233.0 123.3,231.8 123.7,232.3 124.0,232.0 124.3,232.1 124.6,228.8 124.9,231.7 125.2,230.9 125.5,230.1 125.8,229.1 126.1,227.0 126.5,229.8 126.8,229.6 127.1,228.3 127.5,228.7 127.8,229.5 128.2,226.8 128.5,228.7 128.8,227.6 129.2,228.2 129.5,227.9 129.9,227.8 130.2,227.2 130.5,227.4 130.9,224.2 131.2,226.9 131.5,224.8 131.8,226.0 132.1,226.1 132.4,225.6 132.7,221.3 133.0,221.9 133.3,222.1 133.6,220.7 133.9,220.7 134.2,224.1 134.5,223.2 134.7,223.2 135.0,222.2 135.2,222.8 135.5,221.9 135.7,220.8 136.0,221.2 136.2,219.5 136.4,219.1 136.7,221.0 136.9,220.0 137.1,220.3 137.3,218.4 137.6,219.2 137.8,219.5 138.1,218.9 138.3,218.6 138.6,216.6 138.8,218.2 139.1,216.5 139.4,216.3 139.7,217.2 140.0,216.8 140.3,212.9 140.6,215.0 140.8,213.8 141.1,215.8 141.4,213.3 141.7,214.8 142.0,215.1 142.4,213.1 142.7,211.8 143.0,213.9 143.3,213.9 143.6,213.8 144.0,213.4 144.3,210.4 144.6,210.1 145.0,212.3 145.3,210.2 145.6,212.2 146.0,211.4 146.3,210.6 146.6,211.5 147.0,210.9 147.3,210.7 147.6,210.5 148.0,209.3 148.3,210.3 148.6,208.9 149.0,209.9 149.3,206.3 149.6,208.5 150.0,209.2 150.4,209.0 150.8,207.9 151.2,208.9 151.6,208.5 152.0,208.3 152.4,208.5 152.8,208.3 153.2,208.1 153.6,207.8 154.0,205.6 154.4,207.8 154.8,207.2 155.2,207.8 155.6,207.7 156.0,205.4 156.4,206.7 156.8,205.1 157.2,207.3 157.6,206.9 158.0,207.3 158.4,207.2 158.8,207.2 159.2,206.8 159.6,206.3 160.0,205.2 160.4,202.7 160.8,206.0 161.2,206.4 161.6,206.6 162.0,206.3 162.4,205.3 162.8,206.3 163.2,202.5 163.6,206.4 164.0,205.5 164.4,206.0 164.8,206.0 165.2,202.2 165.6,205.7 166.0,204.6 166.4,205.5 166.8,205.8 167.2,205.3 167.6,205.5 168.0,205.7 168.4,201.7 168.8,204.0 169.2,204.9 169.6,205.4 170.0,203.6 170.5,203.8 170.9,203.9 171.3,204.3 171.7,204.0 172.2,204.2 172.6,204.7 173.0,203.0 173.5,203.2 173.9,203.4 174.3,203.7 174.8,203.2 175.2,203.7 175.6,199.9 176.0,202.4 176.4,202.6 176.8,200.0 177.1,201.7 177.5,200.7 177.8,200.8 178.2,203.4 178.5,202.9 179.1,201.7 179.6,200.3 180.0,199.9 180.5,203.3 180.9,203.3 181.3,202.0 181.7,203.3 182.0,203.2 182.4,200.0 182.8,199.2 183.2,201.2 183.6,200.1 184.0,201.8 184.4,203.9 184.7,203.1 185.1,201.2 185.5,202.6 185.8,202.1 186.2,204.6 186.6,204.7 187.0,202.3 187.3,203.5 187.7,205.3 188.1,201.7 188.5,205.0 188.9,206.0 189.2,204.2 189.6,206.1 190.0,206.3 190.4,205.3 190.7,206.2 191.1,203.7 191.5,206.6 191.8,207.5 192.2,207.8 192.6,208.2 192.9,207.6 193.3,208.4 193.7,208.8 194.0,209.1 194.4,209.2 194.7,208.9 195.1,208.9 195.4,208.5 195.7,208.2 196.0,209.3 196.4,210.2 196.8,208.3 197.1,211.1 197.5,210.8 197.8,211.5 198.1,211.5 198.4,212.0 198.7,212.2 199.0,211.9 199.4,212.3 199.7,213.0 200.0,213.3 200.3,212.1 200.6,213.3 200.9,212.6 201.2,213.1 201.4,214.0 201.7,214.7 202.0,215.2 202.3,214.4 202.6,215.2 202.9,216.0 203.2,214.4 203.5,216.6 203.7,216.9 204.0,216.9 204.2,217.5 204.5,217.7 204.7,217.0 205.0,218.4 205.2,218.6 205.4,217.9 205.6,216.6 205.9,219.6 206.1,219.7 206.3,220.1 206.5,220.7 206.8,220.5 207.0,221.1 207.3,220.1 207.5,222.3 207.7,220.5 207.8,222.0 208.0,222.9 208.1,223.5 208.3,222.0 208.5,224.0 208.7,222.0 208.8,224.1 209.0,223.6 209.2,225.7 209.3,225.0 209.5,226.5 209.7,226.0 209.9,227.3 210.0,227.5 210.2,227.9 210.4,227.5 210.5,227.4 210.7,228.7 210.9,229.7 211.0,230.1 211.2,230.5 211.3,230.7 211.5,231.0 211.6,231.4 211.8,231.5 211.9,229.9 212.1,232.5 212.2,230.9 212.3,232.8 212.5,233.7 212.6,234.3 212.7,234.7 212.8,233.4 213.0,235.2 213.1,235.8 213.2,235.8 213.3,234.6 213.5,237.0 213.6,237.2 213.7,237.6 213.8,238.1 214.0,237.6 214.1,237.0 214.2,239.3 214.4,239.8 214.5,240.2 214.7,240.6 214.8,240.9 214.9,241.4 215.1,241.3 215.2,240.7 215.4,242.5 215.6,241.4 215.7,242.2 215.9,241.6 216.0,243.6 216.2,244.6 216.4,244.1 216.5,244.4 216.7,245.5 216.9,246.0 217.0,246.1 217.2,247.0 217.3,247.5 217.5,247.5 217.7,248.3 217.8,248.2 218.0,248.8 218.1,247.5 218.3,247.3 218.5,247.6 218.6,250.3 218.8,249.9 218.9,248.4 219.2,249.9 219.5,251.8 219.7,252.1 220.0,251.7 220.3,252.4 220.5,252.9 220.8,253.2 221.0,252.6 221.3,253.6 221.5,251.6 221.7,253.9 222.0,253.6 222.2,254.2 222.3,254.7 222.5,255.6 222.6,253.7 222.7,253.9 222.9,255.2 223.0,256.1 223.1,255.5 223.2,256.3 223.3,257.2 223.4,258.9 223.6,258.0 223.7,258.3 223.8,260.3 223.9,260.2 224.0,261.0 224.1,261.6 224.2,261.9 224.3,262.2 224.5,262.6 224.6,262.8 224.7,263.0 225.0,263.9 225.2,264.2 225.4,262.6 225.7,265.2 225.9,265.5 226.2,265.1 226.5,266.2 226.8,262.8 227.2,262.7 227.4,266.6 227.3,266.6 227.0,264.3 226.7,265.6 226.4,266.3 226.3,266.1 226.3,266.0 226.5,264.9 227.1,264.5 228.2,262.3 229.8,264.6 232.0,262.1 232.2,265.4 232.5,263.8 232.7,264.1 232.9,262.0 233.2,264.9 233.4,263.4 233.7,265.4 234.0,263.1 234.3,263.9 234.6,265.3 234.9,264.7 235.2,261.9 235.5,264.9 235.8,264.1 236.1,261.6 236.4,265.3 236.8,265.3 237.1,264.9 237.5,264.9 237.8,263.2 238.2,265.2 238.5,264.7 238.9,264.0 239.3,265.1 239.6,261.4 240.0,265.1 240.4,265.3 240.8,264.9 241.2,263.8 241.6,262.8 242.0,264.3 242.4,265.0 242.9,264.2 243.3,264.5 243.7,264.7 244.1,265.3 244.6,263.1 245.0,265.3 245.5,262.5 245.9,263.4 246.3,262.5 246.8,265.2 247.3,262.9 247.7,265.2 248.2,265.0 248.6,263.3 249.1,265.1 249.6,262.0 250.0,262.1 250.5,261.4 251.0,264.8 251.5,263.6 252.0,264.1 252.4,264.1 252.9,263.7 253.4,265.3 253.9,262.5 254.4,263.1 254.9,264.0 255.4,265.2 255.8,265.2 256.3,264.6 256.8,265.1 257.3,261.8 257.8,261.8 258.3,264.6 258.8,265.1 259.3,265.3 259.8,263.3 260.3,265.3 260.8,264.7 261.3,265.3 261.8,265.0 262.3,262.0 262.8,265.1 263.3,265.3 263.8,263.7 264.3,265.3 264.7,264.7 265.2,262.9 265.7,265.3 266.2,263.0 266.7,265.3 267.2,262.9 267.7,263.3 268.1,264.1 268.6,261.5 269.1,262.9 269.6,265.2 270.0,263.9 270.5,264.4 271.0,265.2 271.4,265.3 271.9,262.4 272.3,263.8 272.8,265.3 273.3,263.4 273.7,265.4 274.1,263.3 274.6,263.0 275.0,265.4 275.5,262.5 275.9,265.4 276.3,265.4 276.7,265.4 277.2,264.0 277.6,265.0 278.0,265.4 278.4,265.3 278.8,263.7 279.2,264.6 279.6,265.4 279.9,265.2 280.3,263.6 280.7,265.2 281.1,262.6 281.4,264.8 281.8,262.2 282.1,264.9 282.5,262.7 282.8,265.3 283.2,264.7 283.5,265.4 283.8,261.5 284.1,265.1 284.4,262.4 284.7,265.4 285.0,263.6 285.3,264.0 285.6,264.7 285.9,264.9 286.1,262.2 286.4,262.1 286.7,261.8 286.9,262.2 287.1,262.6 287.4,261.5 287.6,262.8 287.8,265.1 288.0,265.3 288.0,269.1 287.8,269.7 287.6,269.6 287.4,267.2 287.1,267.6 286.9,268.5 286.7,267.2 286.4,267.8 286.1,270.3 285.9,267.8 285.6,267.4 285.3,267.4 285.0,270.4 284.7,268.4 284.4,267.5 284.1,269.7 283.8,267.8 283.5,267.6 283.2,269.2 282.8,267.2 282.5,267.3 282.1,268.1 281.8,270.6 281.4,267.5 281.1,268.4 280.7,267.3 280.3,267.3 279.9,267.3 279.6,267.5 279.2,268.8 278.8,269.3 278.4,269.3 278.0,267.4 277.6,267.7 277.2,270.0 276.7,267.3 276.3,268.6 275.9,269.1 275.5,267.2 275.0,267.4 274.6,267.2 274.1,267.7 273.7,267.3 273.3,267.3 272.8,269.2 272.3,268.6 271.9,267.3 271.4,269.9 271.0,268.0 270.5,267.3 270.0,269.8 269.6,268.6 269.1,270.4 268.6,267.4 268.1,269.6 267.7,269.2 267.2,267.2 266.7,269.9 266.2,267.2 265.7,270.5 265.2,269.5 264.7,267.2 264.3,269.4 263.8,268.1 263.3,267.3 262.8,267.2 262.3,267.1 261.8,268.0 261.3,269.7 260.8,270.5 260.3,267.3 259.8,270.5 259.3,268.0 258.8,269.4 258.3,267.5 257.8,267.2 257.3,269.2 256.8,268.1 256.3,268.2 255.8,268.7 255.4,267.4 254.9,269.4 254.4,267.1 253.9,267.1 253.4,267.3 252.9,270.6 252.4,267.9 252.0,267.7 251.5,270.8 251.0,268.0 250.5,267.1 250.0,268.0 249.6,268.0 249.1,267.9 248.6,268.2 248.2,267.3 247.7,268.1 247.3,270.1 246.8,270.3 246.3,268.5 245.9,267.1 245.5,271.0 245.0,268.2 244.6,268.2 244.1,268.9 243.7,267.5 243.3,267.4 242.9,267.1 242.4,267.2 242.0,267.1 241.6,268.1 241.2,270.8 240.8,269.6 240.4,267.1 240.0,267.1 239.6,267.2 239.3,268.2 238.9,267.8 238.5,267.5 238.2,267.3 237.8,268.1 237.5,269.8 237.1,270.7 236.8,267.7 236.4,267.7 236.1,267.2 235.8,267.2 235.5,269.3 235.2,271.1 234.9,267.4 234.6,267.2 234.3,270.1 234.0,267.3 233.7,268.3 233.4,267.4 233.2,267.7 232.9,269.3 232.7,268.6 232.5,270.5 232.2,267.4 232.0,267.5 229.8,267.5 228.2,269.7 227.1,268.6 226.5,269.8 226.3,269.5 226.3,268.4 226.4,268.9 226.7,270.6 227.0,269.9 227.3,270.1 227.4,271.0 227.2,271.3 226.8,268.6 226.5,268.3 226.2,268.6 225.9,269.0 225.7,267.6 225.4,267.3 225.2,266.8 225.0,268.0 224.7,265.9 224.6,265.4 224.5,265.2 224.3,266.4 224.2,266.0 224.1,265.1 224.0,263.6 223.9,263.2 223.8,262.8 223.7,263.2 223.6,263.4 223.4,261.6 223.3,261.3 223.2,260.6 223.1,261.6 223.0,260.7 222.9,259.3 222.7,259.1 222.6,259.7 222.5,260.2 222.3,258.2 222.2,257.6 222.0,258.1 221.7,256.8 221.5,256.5 221.3,256.1 221.0,256.7 220.8,255.9 220.5,256.2 220.3,256.1 220.0,254.9 219.7,254.6 219.5,255.9 219.2,254.3 218.9,254.1 218.8,253.1 218.6,254.2 218.5,254.6 218.3,254.0 218.1,251.8 218.0,251.7 217.8,252.1 217.7,251.1 217.5,250.3 217.3,251.3 217.2,250.3 217.0,249.2 216.9,248.8 216.7,248.3 216.5,248.0 216.4,248.1 216.2,247.0 216.0,248.3 215.9,246.4 215.7,245.8 215.6,245.4 215.4,245.0 215.2,244.8 215.1,244.2 214.9,243.8 214.8,243.4 214.7,243.0 214.5,243.0 214.4,242.4 214.2,242.9 214.1,241.4 214.0,241.0 213.8,241.3 213.7,242.2 213.6,239.9 213.5,240.0 213.3,241.0 213.2,239.0 213.1,238.3 213.0,239.1 212.8,237.6 212.7,237.4 212.6,236.8 212.5,237.6 212.3,237.5 212.2,235.7 212.1,235.3 211.9,235.1 211.8,234.6 211.6,234.1 211.5,234.2 211.3,233.3 211.2,234.1 211.0,234.9 210.9,233.4 210.7,233.3 210.5,231.4 210.4,231.0 210.2,230.5 210.0,230.8 209.9,230.0 209.7,230.2 209.5,229.8 209.3,229.7 209.2,228.3 209.0,228.1 208.8,228.2 208.7,227.0 208.5,228.7 208.3,226.3 208.1,226.6 208.0,226.3 207.8,225.9 207.7,225.3 207.5,225.0 207.3,224.7 207.0,225.2 206.8,223.8 206.5,225.5 206.3,222.8 206.1,224.7 205.9,223.4 205.6,221.8 205.4,222.9 205.2,221.2 205.0,220.9 204.7,220.6 204.5,221.8 204.2,220.4 204.0,219.8 203.7,219.4 203.5,219.1 203.2,218.8 202.9,220.2 202.6,219.4 202.3,217.9 202.0,218.5 201.7,217.7 201.4,217.9 201.2,216.8 200.9,216.6 200.6,216.3 200.3,216.6 200.0,215.7 199.7,217.7 199.4,216.9 199.0,215.2 198.7,215.0 198.4,215.1 198.1,214.2 197.8,215.9 197.5,213.7 197.1,213.7 196.8,213.3 196.4,214.0 196.0,214.3 195.7,214.0 195.4,212.4 195.1,212.1 194.7,212.6 194.4,213.4 194.0,213.0 193.7,211.6 193.3,211.7 192.9,211.3 192.6,210.7 192.2,212.0 191.8,212.3 191.5,212.5 191.1,210.6 190.7,209.8 190.4,210.0 190.0,211.4 189.6,209.3 189.2,212.1 188.9,210.9 188.5,209.3 188.1,208.7 187.7,208.3 187.3,208.4 187.0,207.9 186.6,209.7 186.2,211.4 185.8,207.8 185.5,207.7 185.1,207.0 184.7,208.1 184.4,210.3 184.0,206.7 183.6,209.0 183.2,206.5 182.8,206.8 182.4,209.3 182.0,209.7 181.7,206.3 181.3,206.1 180.9,206.1 180.5,206.3 180.0,206.3 179.6,206.2 179.1,207.0 178.5,208.9 178.2,209.5 177.8,207.1 177.5,206.4 177.1,206.6 176.8,210.6 176.4,206.6 176.0,206.7 175.6,209.4 175.2,207.4 174.8,209.1 174.3,209.8 173.9,207.3 173.5,209.6 173.0,208.3 172.6,207.7 172.2,208.9 171.7,207.8 171.3,208.1 170.9,208.0 170.5,208.1 170.0,208.3 169.6,209.6 169.2,208.4 168.8,209.1 168.4,210.1 168.0,208.6 167.6,210.6 167.2,211.4 166.8,211.1 166.4,209.2 166.0,210.4 165.6,209.0 165.2,209.3 164.8,209.5 164.4,211.9 164.0,209.4 163.6,210.7 163.2,209.6 162.8,209.3 162.4,210.3 162.0,209.7 161.6,212.6 161.2,212.5 160.8,210.3 160.4,209.7 160.0,210.5 159.6,210.0 159.2,210.4 158.8,210.0 158.4,210.1 158.0,210.7 157.6,214.5 157.2,212.4 156.8,210.3 156.4,210.8 156.0,213.3 155.6,211.8 155.2,211.0 154.8,214.9 154.4,213.1 154.0,213.4 153.6,211.0 153.2,212.2 152.8,214.1 152.4,215.5 152.0,214.8 151.6,212.0 151.2,211.8 150.8,212.6 150.4,213.4 150.0,212.2 149.6,213.4 149.3,212.7 149.0,215.7 148.6,213.1 148.3,214.7 148.0,213.4 147.6,215.2 147.3,216.0 147.0,214.0 146.6,214.6 146.3,214.6 146.0,215.2 145.6,218.4 145.3,215.6 145.0,215.6 144.6,219.1 144.3,216.3 144.0,219.9 143.6,216.7 143.3,221.0 143.0,217.6 142.7,220.5 142.4,221.0 142.0,218.7 141.7,218.6 141.4,220.6 141.1,218.9 140.8,219.2 140.6,223.4 140.3,220.5 140.0,219.9 139.7,220.2 139.4,222.2 139.1,222.4 138.8,223.4 138.6,221.5 138.3,223.8 138.1,222.2 137.8,222.9 137.6,224.6 137.3,225.6 137.1,223.7 136.9,223.9 136.7,227.5 136.4,225.0 136.2,226.3 136.0,225.0 135.7,225.2 135.5,225.9 135.2,226.5 135.0,226.2 134.7,227.2 134.5,227.0 134.2,227.8 133.9,228.3 133.6,229.0 133.3,229.0 133.0,230.5 132.7,228.6 132.4,231.8 132.1,228.9 131.8,230.8 131.5,229.5 131.2,232.8 130.9,231.3 130.5,232.1 130.2,230.5 129.9,234.9 129.5,232.8 129.2,233.0 128.8,233.4 128.5,231.8 128.2,232.0 127.8,234.1 127.5,236.7 127.1,234.5 126.8,233.1 126.5,233.3 126.1,236.1 125.8,233.9 125.5,234.5 125.2,234.3 124.9,235.0 124.6,237.3 124.3,235.6 124.0,235.2 123.7,236.6 123.3,235.8 123.0,236.1 122.6,239.5 122.3,236.6 122.0,237.2 121.6,237.2 121.3,237.5 121.0,238.1 120.7,238.1 120.4,239.7 120.1,238.6 119.8,239.4 119.5,240.1 119.2,240.5 118.9,239.7 118.7,240.0 118.4,241.5 118.1,240.6 117.8,240.7 117.6,243.6 117.3,241.3 117.0,242.4 116.6,241.9 116.3,242.0 116.0,243.1 115.6,243.0 115.3,244.6 115.0,242.9 114.6,243.3 114.3,243.7 114.0,243.5 113.7,243.8 113.4,244.0 113.1,244.1 112.8,245.0 112.5,245.3 112.1,245.4 111.8,246.9 111.5,245.4 111.2,245.7 111.0,248.4 110.7,246.9 110.5,246.5 110.2,247.7 109.9,250.2 109.7,248.5 109.4,247.7 109.1,249.5 108.9,251.3 108.6,248.6 108.4,249.3 108.1,249.4 107.8,251.9 107.6,252.6 107.3,252.2 107.0,250.6 106.8,252.9 106.5,253.7 106.3,251.6 106.0,252.1 105.7,252.6 105.5,252.5 105.2,254.0 105.0,255.7 104.7,254.6 104.5,253.7 104.2,254.1 103.9,254.3 103.7,257.6 103.4,257.9 103.1,256.1 102.9,256.7 102.6,256.6 102.4,259.0 102.1,257.7 101.9,257.6 101.6,257.3 101.4,257.6 101.2,258.0 100.9,258.5 100.7,259.3 100.5,261.9 100.3,259.5 100.1,259.7 99.9,260.1 99.7,259.8 99.5,260.4 99.4,260.6 99.2,261.2 99.0,262.2 98.9,263.4 98.7,263.5 98.5,262.9 98.4,264.0 98.2,265.2 98.1,264.4 97.9,265.0 97.8,265.9 97.6,265.8 97.4,265.7 97.3,266.0 97.1,266.4 97.0,266.4 96.8,266.8 96.7,266.6 96.5,266.6 96.3,268.0 96.0,267.1 95.8,266.2 95.6,265.6 95.4,266.3 95.2,264.8 95.0,265.1 94.8,263.6 94.6,263.0 94.4,262.8 94.2,262.0 94.0,261.7 93.8,261.4 93.6,262.8 93.3,262.4 92.9,262.2 92.5,262.1 92.1,263.8 91.8,263.9 91.4,263.0 91.0,263.3 90.7,263.8 90.3,264.1 90.0,263.4 89.9,263.3 89.7,262.9 89.6,262.6 89.5,262.3 89.4,262.1 89.3,262.8 89.2,261.9 89.0,261.4 88.9,260.0 88.8,259.6 88.7,260.2 88.6,259.0 88.5,258.9 88.4,258.1 88.3,258.0 88.2,257.5 88.1,256.1 88.0,255.7 87.9,256.7 87.8,256.5 87.7,255.4 87.7,255.0 87.6,255.1 87.5,254.3 87.3,254.9 87.2,254.7 87.0,254.4 86.9,255.2 86.8,256.6 86.7,256.2 86.6,257.2 86.5,257.5 86.4,258.8 86.4,258.3 86.3,258.9z" fill="#ff0000" stroke="#ff0000" stroke-width="1.0" stroke-linejoin="round" fill-opacity="1" stroke-opacity="1"/>
<text x="109.6" y="148" font-size="11" text-anchor="start" fill="#000" stroke="#000" stroke-width="0.3" font-weight="normal" >CTRL</text>
<line x1="140.5" y1="153.8" x2="156.7" y2="176.2" stroke="#000000" stroke-width="1.2"/>
<path d="M156.7,176.2 L152.0,173.4 L155.6,170.9 z" fill="#000000"/>
<text x="226.7" y="168" font-size="11" text-anchor="start" fill="#00ff00" stroke="#00ff00" stroke-width="0.1" font-weight="normal" >H-89</text>
<line x1="222.7" y1="168.2" x2="196.3" y2="180.7" stroke="#00ff00" stroke-width="1.2"/>
<path d="M196.3,180.7 L199.9,176.6 L201.8,180.5 z" fill="#00ff00"/>
<text x="256.8" y="219.7" font-size="11" text-anchor="start" fill="#ff0000" stroke="#ff0000" stroke-width="0.1" font-weight="normal" >KN-93</text>
<line x1="252.3" y1="217" x2="211.2" y2="223.7" stroke="#ff0000" stroke-width="1.2"/>
<path d="M211.2,223.7 L215.8,220.7 L216.5,225.1 z" fill="#ff0000"/>
<text x="171.7" y="253.3" font-size="11" text-anchor="start" fill="#0000ff" stroke="#0000ff" stroke-width="0.15" font-weight="normal" >NISO</text>
<line x1="173.7" y1="242" x2="161" y2="228.1" stroke="#0000ff" stroke-width="1.2"/>
<path d="M161.0,228.1 L166.0,230.3 L162.7,233.3 z" fill="#0000ff"/>
<text x="377.1" y="74.9" font-size="18" text-anchor="start" fill="#000" stroke="#000" stroke-width="0.3" font-weight="bold" >B</text>
<path d="M444.6,66.5 L444.6,250.5 M440.6,66.5 L444.6,66.5 M440.6,103.3 L444.6,103.3 M440.6,140.1 L444.6,140.1 M440.6,177 L444.6,177 M440.6,213.8 L444.6,213.8 M440.6,250.5 L444.6,250.5" stroke="#111" stroke-width="1.6" fill="none"/>
<text x="438.4" y="70.7" font-size="12" text-anchor="end" fill="#000" stroke="#000" stroke-width="0.3" font-weight="normal" >0.5</text>
<text x="438.4" y="107.5" font-size="12" text-anchor="end" fill="#000" stroke="#000" stroke-width="0.3" font-weight="normal" >0.4</text>
<text x="438.4" y="144.3" font-size="12" text-anchor="end" fill="#000" stroke="#000" stroke-width="0.3" font-weight="normal" >0.3</text>
<text x="438.4" y="181.2" font-size="12" text-anchor="end" fill="#000" stroke="#000" stroke-width="0.3" font-weight="normal" >0.2</text>
<text x="438.4" y="218" font-size="12" text-anchor="end" fill="#000" stroke="#000" stroke-width="0.3" font-weight="normal" >0.1</text>
<text x="438.4" y="254.7" font-size="12" text-anchor="end" fill="#000" stroke="#000" stroke-width="0.3" font-weight="normal" >0.0</text>
<text transform="translate(410.3,259.3) rotate(-90)" font-size="15.7" stroke="#000" stroke-width="0.3">I<tspan font-size="10" dy="4">Ks</tspan><tspan dy="-4"> mid-plateau density (A/F)</tspan></text>
<path d="M477.5,39 L477.5,35.4 Q477.5,33.4 479.5,33.4 L647.5,33.4 Q649.5,33.4 649.5,35.4 L649.5,39 M563.1,33.4 L563.1,28.4" stroke="#333" stroke-width="1.1" fill="none"/>
<path d="M562.80,18.20L562.80,15.60M562.80,18.20L565.27,17.40M562.80,18.20L564.33,20.30M562.80,18.20L561.27,20.30M562.80,18.20L560.33,17.40" stroke="#000" stroke-width="1.8" stroke-linecap="round" fill="none"/>
<path d="M477.5,63.6 L477.5,60 Q477.5,58 479.5,58 L593.7,58 Q595.7,58 595.7,60 L595.7,63.6 M536.4,58 L536.4,53" stroke="#333" stroke-width="1.1" fill="none"/>
<path d="M537.30,42.80L537.30,40.20M537.30,42.80L539.77,42.00M537.30,42.80L538.83,44.90M537.30,42.80L535.77,44.90M537.30,42.80L534.83,42.00" stroke="#000" stroke-width="1.8" stroke-linecap="round" fill="none"/>
<path d="M477.5,88.1 L477.5,84.5 Q477.5,82.5 479.5,82.5 L537.6,82.5 Q539.6,82.5 539.6,84.5 L539.6,88.1 M508.6,82.5 L508.6,77.5" stroke="#333" stroke-width="1.1" fill="none"/>
<path d="M508.20,67.50L508.20,64.90M508.20,67.50L510.67,66.70M508.20,67.50L509.73,69.60M508.20,67.50L506.67,69.60M508.20,67.50L505.73,66.70" stroke="#000" stroke-width="1.8" stroke-linecap="round" fill="none"/>
<path d="M463.7,155 L463.7,179.6 M459.7,155 L467.7,155 M459.7,179.6 L467.7,179.6" stroke="#000000" stroke-width="1.3" fill="none"/>
<rect x="459.2" y="163" width="9" height="9" fill="#000000"/>
<path d="M487.3,115.6l2.6,2.6l-2.6,2.6l-2.6,-2.6zM481.8,144.7l2.6,2.6l-2.6,2.6l-2.6,-2.6zM492.3,144.7l2.6,2.6l-2.6,2.6l-2.6,-2.6zM486.8,167.3l2.6,2.6l-2.6,2.6l-2.6,-2.6zM481.8,180.5l2.6,2.6l-2.6,2.6l-2.6,-2.6zM492.3,184.9l2.6,2.6l-2.6,2.6l-2.6,-2.6zM486.8,215.4l2.6,2.6l-2.6,2.6l-2.6,-2.6z" fill="#000000"/>
<path d="M525.7,203.3 L525.7,224.2 M521.7,203.3 L529.7,203.3 M521.7,224.2 L529.7,224.2" stroke="#ff0000" stroke-width="1.3" fill="none"/>
<rect x="521.2" y="209.1" width="9" height="9" fill="#ff0000"/>
<path d="M548.8,168.8l2.6,2.6l-2.6,2.6l-2.6,-2.6zM548.8,175.9l2.6,2.6l-2.6,2.6l-2.6,-2.6zM545.5,202.9l2.6,2.6l-2.6,2.6l-2.6,-2.6zM552.7,199.2l2.6,2.6l-2.6,2.6l-2.6,-2.6zM548.8,226.0l2.6,2.6l-2.6,2.6l-2.6,-2.6zM541.5,231.5l2.6,2.6l-2.6,2.6l-2.6,-2.6zM548.8,242.9l2.6,2.6l-2.6,2.6l-2.6,-2.6zM556.0,242.0l2.6,2.6l-2.6,2.6l-2.6,-2.6z" fill="#ff0000"/>
<path d="M587.5,197.8 L587.5,222 M583.5,197.8 L591.5,197.8 M583.5,222 L591.5,222" stroke="#00ff00" stroke-width="1.3" fill="none"/>
<rect x="583" y="205.4" width="9" height="9" fill="#00ff00"/>
<path d="M614.5,161.6l2.6,2.6l-2.6,2.6l-2.6,-2.6zM606.8,171.2l2.6,2.6l-2.6,2.6l-2.6,-2.6zM610.5,192.4l2.6,2.6l-2.6,2.6l-2.6,-2.6zM610.5,223.3l2.6,2.6l-2.6,2.6l-2.6,-2.6zM603.3,236.3l2.6,2.6l-2.6,2.6l-2.6,-2.6zM610.5,234.1l2.6,2.6l-2.6,2.6l-2.6,-2.6zM618.2,233.7l2.6,2.6l-2.6,2.6l-2.6,-2.6z" fill="#00ff00"/>
<path d="M649.5,226 L649.5,230 M649.5,226 L649.5,226 M649.5,230 L649.5,230" stroke="#0000ff" stroke-width="1.3" fill="none"/>
<rect x="645" y="223.6" width="9" height="9" fill="#0000ff"/>
<path d="M672.7,195.6l2.6,2.6l-2.6,2.6l-2.6,-2.6zM665.2,213.2l2.6,2.6l-2.6,2.6l-2.6,-2.6zM669.1,211.3l2.6,2.6l-2.6,2.6l-2.6,-2.6zM676.2,216.7l2.6,2.6l-2.6,2.6l-2.6,-2.6zM680.1,220.3l2.6,2.6l-2.6,2.6l-2.6,-2.6zM672.7,228.9l2.6,2.6l-2.6,2.6l-2.6,-2.6zM667.2,232.6l2.6,2.6l-2.6,2.6l-2.6,-2.6zM678.2,231.5l2.6,2.6l-2.6,2.6l-2.6,-2.6zM674.6,234.6l2.6,2.6l-2.6,2.6l-2.6,-2.6zM663.6,238.8l2.6,2.6l-2.6,2.6l-2.6,-2.6zM670.9,241.2l2.6,2.6l-2.6,2.6l-2.6,-2.6zM681.9,241.8l2.6,2.6l-2.6,2.6l-2.6,-2.6z" fill="#0000ff"/>
<text transform="translate(479.5,262.3) rotate(-90)" font-size="15.6" text-anchor="end" fill="#000000" stroke="#000000" stroke-width="0.3">CTRL (7)</text>
<text transform="translate(540.2,263.2) rotate(-90)" font-size="15.6" text-anchor="end" fill="#ff0000" stroke="#ff0000" stroke-width="0.3">KN-93 (7)</text>
<text transform="translate(600.3,262.9) rotate(-90)" font-size="15.6" text-anchor="end" fill="#00ff00" stroke="#00ff00" stroke-width="0.3">H-89 (7)</text>
<text transform="translate(661.1,262.3) rotate(-90)" font-size="15.6" text-anchor="end" fill="#0000ff" stroke="#0000ff" stroke-width="0.3">NISO (11)</text>
<text x="0.4" y="465.8" font-size="18" text-anchor="start" fill="#000" stroke="#000" stroke-width="0.3" font-weight="bold" >C</text>
<path d="M53.4,467.8 L53.4,650.9 M49.4,467.8 L53.4,467.8 M49.4,498.3 L53.4,498.3 M49.4,528.8 L53.4,528.8 M49.4,559.4 L53.4,559.4 M49.4,589.9 L53.4,589.9 M49.4,620.4 L53.4,620.4 M49.4,650.9 L53.4,650.9" stroke="#111" stroke-width="1.6" fill="none"/>
<text x="47.4" y="472" font-size="12" text-anchor="end" fill="#000" stroke="#000" stroke-width="0.3" font-weight="normal" >0.6</text>
<text x="47.4" y="502.5" font-size="12" text-anchor="end" fill="#000" stroke="#000" stroke-width="0.3" font-weight="normal" >0.5</text>
<text x="47.4" y="533" font-size="12" text-anchor="end" fill="#000" stroke="#000" stroke-width="0.3" font-weight="normal" >0.4</text>
<text x="47.4" y="563.6" font-size="12" text-anchor="end" fill="#000" stroke="#000" stroke-width="0.3" font-weight="normal" >0.3</text>
<text x="47.4" y="594.1" font-size="12" text-anchor="end" fill="#000" stroke="#000" stroke-width="0.3" font-weight="normal" >0.2</text>
<text x="47.4" y="624.6" font-size="12" text-anchor="end" fill="#000" stroke="#000" stroke-width="0.3" font-weight="normal" >0.1</text>
<text x="47.4" y="655.1" font-size="12" text-anchor="end" fill="#000" stroke="#000" stroke-width="0.3" font-weight="normal" >0.0</text>
<text transform="translate(20.1,634.8) rotate(-90)" font-size="15.7" stroke="#000" stroke-width="0.3">I<tspan font-size="10" dy="4">Ks</tspan><tspan dy="-4"> peak density (A/F)</tspan></text>
<path d="M81,425.9 L81,422.3 Q81,420.3 83,420.3 L250.3,420.3 Q252.3,420.3 252.3,422.3 L252.3,425.9 M166.3,420.3 L166.3,415.3" stroke="#333" stroke-width="1.1" fill="none"/>
<path d="M167.20,405.20L167.20,402.60M167.20,405.20L169.67,404.40M167.20,405.20L168.73,407.30M167.20,405.20L165.67,407.30M167.20,405.20L164.73,404.40" stroke="#000" stroke-width="1.8" stroke-linecap="round" fill="none"/>
<path d="M81,452.9 L81,449.3 Q81,447.3 83,447.3 L197.1,447.3 Q199.1,447.3 199.1,449.3 L199.1,452.9 M140.6,447.3 L140.6,442.3" stroke="#333" stroke-width="1.1" fill="none"/>
<text x="141.9" y="434.1" font-size="10.5" text-anchor="middle" fill="#000" stroke="#000" stroke-width="0.3" font-weight="normal" >NS</text>
<path d="M81,477.4 L81,473.8 Q81,471.8 83,471.8 L141.2,471.8 Q143.2,471.8 143.2,473.8 L143.2,477.4 M112,471.8 L112,466.8" stroke="#333" stroke-width="1.1" fill="none"/>
<text x="111.9" y="460.7" font-size="10.5" text-anchor="middle" fill="#000" stroke="#000" stroke-width="0.3" font-weight="normal" >NS</text>
<path d="M71,536.9 L71,572.8 M67,536.9 L75,536.9 M67,572.8 L75,572.8" stroke="#000000" stroke-width="1.3" fill="none"/>
<rect x="66.5" y="550.3" width="9" height="9" fill="#000000"/>
<path d="M92.6,496.7l2.6,2.6l-2.6,2.6l-2.6,-2.6zM92.6,517.0l2.6,2.6l-2.6,2.6l-2.6,-2.6zM87.1,528.1l2.6,2.6l-2.6,2.6l-2.6,-2.6zM97.8,529.9l2.6,2.6l-2.6,2.6l-2.6,-2.6zM92.6,564.0l2.6,2.6l-2.6,2.6l-2.6,-2.6zM92.6,607.8l2.6,2.6l-2.6,2.6l-2.6,-2.6zM92.6,621.5l2.6,2.6l-2.6,2.6l-2.6,-2.6z" fill="#000000"/>
<path d="M127.5,578.3 L127.5,596.8 M123.5,578.3 L131.5,578.3 M123.5,596.8 L131.5,596.8" stroke="#ff0000" stroke-width="1.3" fill="none"/>
<rect x="123" y="583.2" width="9" height="9" fill="#ff0000"/>
<path d="M146.5,543.7l2.6,2.6l-2.6,2.6l-2.6,-2.6zM151.5,549.7l2.6,2.6l-2.6,2.6l-2.6,-2.6zM149.0,578.4l2.6,2.6l-2.6,2.6l-2.6,-2.6zM146.5,591.3l2.6,2.6l-2.6,2.6l-2.6,-2.6zM151.5,594.2l2.6,2.6l-2.6,2.6l-2.6,-2.6zM141.6,601.2l2.6,2.6l-2.6,2.6l-2.6,-2.6zM156.4,601.2l2.6,2.6l-2.6,2.6l-2.6,-2.6zM149.0,621.0l2.6,2.6l-2.6,2.6l-2.6,-2.6z" fill="#ff0000"/>
<path d="M184.2,553.2 L184.2,587.9 M180.2,553.2 L188.2,553.2 M180.2,587.9 L188.2,587.9" stroke="#00ff00" stroke-width="1.3" fill="none"/>
<rect x="179.7" y="565.8" width="9" height="9" fill="#00ff00"/>
<path d="M200.7,524.7l2.6,2.6l-2.6,2.6l-2.6,-2.6zM211.0,522.2l2.6,2.6l-2.6,2.6l-2.6,-2.6zM200.7,545.1l2.6,2.6l-2.6,2.6l-2.6,-2.6zM211.0,543.6l2.6,2.6l-2.6,2.6l-2.6,-2.6zM205.7,583.1l2.6,2.6l-2.6,2.6l-2.6,-2.6zM200.7,623.1l2.6,2.6l-2.6,2.6l-2.6,-2.6zM211.0,633.0l2.6,2.6l-2.6,2.6l-2.6,-2.6z" fill="#00ff00"/>
<rect x="237.1" y="589.2" width="8.8" height="10.4" rx="1.8" fill="#0000ff"/>
<path d="M262.4,569.3l2.6,2.6l-2.6,2.6l-2.6,-2.6zM270.3,573.9l2.6,2.6l-2.6,2.6l-2.6,-2.6zM254.9,577.2l2.6,2.6l-2.6,2.6l-2.6,-2.6zM260.2,578.1l2.6,2.6l-2.6,2.6l-2.6,-2.6zM265.1,583.6l2.6,2.6l-2.6,2.6l-2.6,-2.6zM265.1,589.3l2.6,2.6l-2.6,2.6l-2.6,-2.6zM270.3,592.3l2.6,2.6l-2.6,2.6l-2.6,-2.6zM254.9,594.5l2.6,2.6l-2.6,2.6l-2.6,-2.6zM260.2,602.5l2.6,2.6l-2.6,2.6l-2.6,-2.6zM260.2,606.2l2.6,2.6l-2.6,2.6l-2.6,-2.6zM265.1,608.4l2.6,2.6l-2.6,2.6l-2.6,-2.6zM262.4,626.6l2.6,2.6l-2.6,2.6l-2.6,-2.6z" fill="#0000ff"/>
<text transform="translate(82.6,655.8) rotate(-90)" font-size="15.6" text-anchor="end" fill="#000000" stroke="#000000" stroke-width="0.3">CTRL (7)</text>
<text transform="translate(139.9,656.5) rotate(-90)" font-size="15.6" text-anchor="end" fill="#ff0000" stroke="#ff0000" stroke-width="0.3">KN-93 (7)</text>
<text transform="translate(197.5,655) rotate(-90)" font-size="15.6" text-anchor="end" fill="#00ff00" stroke="#00ff00" stroke-width="0.3">H-89 (7)</text>
<text transform="translate(254.3,655) rotate(-90)" font-size="15.6" text-anchor="end" fill="#0000ff" stroke="#0000ff" stroke-width="0.3">NISO (11)</text>
<text x="378.1" y="465.5" font-size="18" text-anchor="start" fill="#000" stroke="#000" stroke-width="0.3" font-weight="bold" >D</text>
<path d="M444.3,467.2 L444.3,651.7 M440.3,467.2 L444.3,467.2 M440.3,498 L444.3,498 M440.3,528.8 L444.3,528.8 M440.3,559.5 L444.3,559.5 M440.3,590.3 L444.3,590.3 M440.3,621 L444.3,621 M440.3,651.7 L444.3,651.7" stroke="#111" stroke-width="1.6" fill="none"/>
<text x="438" y="471.4" font-size="12" text-anchor="end" fill="#000" stroke="#000" stroke-width="0.3" font-weight="normal" >60</text>
<text x="438" y="502.2" font-size="12" text-anchor="end" fill="#000" stroke="#000" stroke-width="0.3" font-weight="normal" >50</text>
<text x="438" y="533" font-size="12" text-anchor="end" fill="#000" stroke="#000" stroke-width="0.3" font-weight="normal" >40</text>
<text x="438" y="563.7" font-size="12" text-anchor="end" fill="#000" stroke="#000" stroke-width="0.3" font-weight="normal" >30</text>
<text x="438" y="594.5" font-size="12" text-anchor="end" fill="#000" stroke="#000" stroke-width="0.3" font-weight="normal" >20</text>
<text x="438" y="625.2" font-size="12" text-anchor="end" fill="#000" stroke="#000" stroke-width="0.3" font-weight="normal" >10</text>
<text x="438" y="655.9" font-size="12" text-anchor="end" fill="#000" stroke="#000" stroke-width="0.3" font-weight="normal" >0</text>
<text transform="translate(416,623) rotate(-90)" font-size="15.7" stroke="#000" stroke-width="0.3">I<tspan font-size="10" dy="4">Ks</tspan><tspan dy="-4"> integral (mC/F)</tspan></text>
<path d="M477.5,426.8 L477.5,423.2 Q477.5,421.2 479.5,421.2 L647.5,421.2 Q649.5,421.2 649.5,423.2 L649.5,426.8 M563.3,421.2 L563.3,416.2" stroke="#333" stroke-width="1.1" fill="none"/>
<path d="M563.50,405.20L563.50,402.60M563.50,405.20L565.97,404.40M563.50,405.20L565.03,407.30M563.50,405.20L561.97,407.30M563.50,405.20L561.03,404.40" stroke="#000" stroke-width="1.8" stroke-linecap="round" fill="none"/>
<path d="M477.5,452.9 L477.5,449.3 Q477.5,447.3 479.5,447.3 L593.7,447.3 Q595.7,447.3 595.7,449.3 L595.7,452.9 M536.5,447.3 L536.5,442.3" stroke="#333" stroke-width="1.1" fill="none"/>
<text x="537.7" y="434.5" font-size="10.5" text-anchor="middle" fill="#000" stroke="#000" stroke-width="0.3" font-weight="normal" >NS</text>
<path d="M477.5,477.4 L477.5,473.8 Q477.5,471.8 479.5,471.8 L537.7,471.8 Q539.7,471.8 539.7,473.8 L539.7,477.4 M508.7,471.8 L508.7,466.8" stroke="#333" stroke-width="1.1" fill="none"/>
<text x="509" y="462.8" font-size="10.5" text-anchor="middle" fill="#000" stroke="#000" stroke-width="0.3" font-weight="normal" >NS</text>
<path d="M463.5,548.8 L463.5,581 M459.5,548.8 L467.5,548.8 M459.5,581 L467.5,581" stroke="#000000" stroke-width="1.3" fill="none"/>
<rect x="459" y="560.9" width="9" height="9" fill="#000000"/>
<path d="M486.5,492.3l2.6,2.6l-2.6,2.6l-2.6,-2.6zM486.5,519.5l2.6,2.6l-2.6,2.6l-2.6,-2.6zM486.5,554.9l2.6,2.6l-2.6,2.6l-2.6,-2.6zM486.5,578.4l2.6,2.6l-2.6,2.6l-2.6,-2.6zM480.8,590.0l2.6,2.6l-2.6,2.6l-2.6,-2.6zM492.0,593.2l2.6,2.6l-2.6,2.6l-2.6,-2.6zM486.5,609.3l2.6,2.6l-2.6,2.6l-2.6,-2.6z" fill="#000000"/>
<path d="M525.4,591.4 L525.4,606.7 M521.4,591.4 L529.4,591.4 M521.4,606.7 L529.4,606.7" stroke="#ff0000" stroke-width="1.3" fill="none"/>
<rect x="520.9" y="594.8" width="9" height="9" fill="#ff0000"/>
<path d="M548.4,563.5l2.6,2.6l-2.6,2.6l-2.6,-2.6zM553.9,573.4l2.6,2.6l-2.6,2.6l-2.6,-2.6zM542.7,581.4l2.6,2.6l-2.6,2.6l-2.6,-2.6zM542.7,596.7l2.6,2.6l-2.6,2.6l-2.6,-2.6zM553.9,601.2l2.6,2.6l-2.6,2.6l-2.6,-2.6zM553.9,607.8l2.6,2.6l-2.6,2.6l-2.6,-2.6zM542.7,614.8l2.6,2.6l-2.6,2.6l-2.6,-2.6zM548.4,630.9l2.6,2.6l-2.6,2.6l-2.6,-2.6z" fill="#ff0000"/>
<path d="M586.8,574.3 L586.8,603.3 M582.8,574.3 L590.8,574.3 M582.8,603.3 L590.8,603.3" stroke="#00ff00" stroke-width="1.3" fill="none"/>
<rect x="582.3" y="584.5" width="9" height="9" fill="#00ff00"/>
<path d="M615.6,532.6l2.6,2.6l-2.6,2.6l-2.6,-2.6zM604.6,540.3l2.6,2.6l-2.6,2.6l-2.6,-2.6zM610.1,577.6l2.6,2.6l-2.6,2.6l-2.6,-2.6zM610.1,600.7l2.6,2.6l-2.6,2.6l-2.6,-2.6zM615.6,607.3l2.6,2.6l-2.6,2.6l-2.6,-2.6zM604.6,609.9l2.6,2.6l-2.6,2.6l-2.6,-2.6zM610.1,635.2l2.6,2.6l-2.6,2.6l-2.6,-2.6z" fill="#00ff00"/>
<path d="M648.6,602 L648.6,607 M648.6,602 L648.6,602 M648.6,607 L648.6,607" stroke="#0000ff" stroke-width="1.3" fill="none"/>
<rect x="644.1" y="599.9" width="9" height="9" fill="#0000ff"/>
<path d="M669.9,573.7l2.6,2.6l-2.6,2.6l-2.6,-2.6zM674.3,585.3l2.6,2.6l-2.6,2.6l-2.6,-2.6zM678.7,590.1l2.6,2.6l-2.6,2.6l-2.6,-2.6zM669.9,595.9l2.6,2.6l-2.6,2.6l-2.6,-2.6zM665.5,600.7l2.6,2.6l-2.6,2.6l-2.6,-2.6zM674.3,600.3l2.6,2.6l-2.6,2.6l-2.6,-2.6zM662.9,608.4l2.6,2.6l-2.6,2.6l-2.6,-2.6zM672.1,607.3l2.6,2.6l-2.6,2.6l-2.6,-2.6zM667.7,611.2l2.6,2.6l-2.6,2.6l-2.6,-2.6zM676.5,612.1l2.6,2.6l-2.6,2.6l-2.6,-2.6zM680.9,613.2l2.6,2.6l-2.6,2.6l-2.6,-2.6zM672.1,623.3l2.6,2.6l-2.6,2.6l-2.6,-2.6z" fill="#0000ff"/>
<text transform="translate(478.9,659.4) rotate(-90)" font-size="15.6" text-anchor="end" fill="#000000" stroke="#000000" stroke-width="0.3">CTRL (7)</text>
<text transform="translate(539.5,659.4) rotate(-90)" font-size="15.6" text-anchor="end" fill="#ff0000" stroke="#ff0000" stroke-width="0.3">KN-93 (7)</text>
<text transform="translate(600.7,659.3) rotate(-90)" font-size="15.6" text-anchor="end" fill="#00ff00" stroke="#00ff00" stroke-width="0.3">H-89 (7)</text>
<text transform="translate(661.1,659) rotate(-90)" font-size="15.6" text-anchor="end" fill="#0000ff" stroke="#0000ff" stroke-width="0.3">NISO (11)</text>
</g></svg></body></html>
